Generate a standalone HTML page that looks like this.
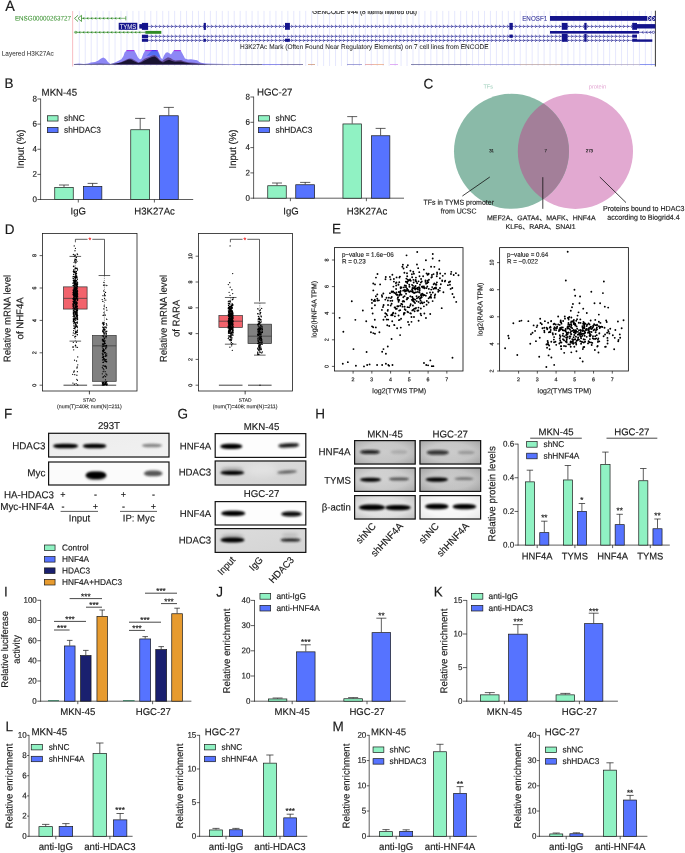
<!DOCTYPE html>
<html lang="en">
<head>
<meta charset="utf-8">
<title>Figure</title>
<style>
html,body{margin:0;padding:0;background:#fff;}
body{width:685px;height:853px;overflow:hidden;}
svg{display:block;font-family:"Liberation Sans",sans-serif;}
</style>
</head>
<body>
<svg width="685" height="853" viewBox="0 0 685 853" fill="#1a1a1a">
<defs>
<filter id="b1" x="-30%" y="-100%" width="160%" height="300%"><feGaussianBlur stdDeviation="0.9"/></filter>
<filter id="b2" x="-30%" y="-100%" width="160%" height="300%"><feGaussianBlur stdDeviation="1.8"/></filter>
<filter id="b3" x="-30%" y="-100%" width="160%" height="300%"><feGaussianBlur stdDeviation="3"/></filter>
<filter id="b4" x="-30%" y="-100%" width="160%" height="300%"><feGaussianBlur stdDeviation="1.3"/></filter>
<radialGradient id="vg" cx="0.5" cy="0.5" r="0.75"><stop offset="0" stop-color="#000" stop-opacity="0"/><stop offset="0.5" stop-color="#000" stop-opacity="0.1"/><stop offset="1" stop-color="#000" stop-opacity="1"/></radialGradient>
</defs>
<rect width="685" height="853" fill="#fff"/>
<g id="panelA">
<path d="M79.3 10.9V66M85.26 10.9V66M91.22 10.9V66M97.18 10.9V66M103.13 10.9V66M109.09 10.9V66M115.05 10.9V66M121.01 10.9V66M126.97 10.9V66M132.93 10.9V66M138.89 10.9V66M144.85 10.9V66M150.8 10.9V66M156.76 10.9V66M162.72 10.9V66M168.68 10.9V66M174.64 10.9V66M180.6 10.9V66M186.56 10.9V66M192.52 10.9V66M198.47 10.9V66M204.43 10.9V66M210.39 10.9V66M216.35 10.9V66M222.31 10.9V66M228.27 10.9V66M234.23 10.9V66M240.18 10.9V66M246.14 10.9V66M252.1 10.9V66M258.06 10.9V66M264.02 10.9V66M269.98 10.9V66M275.94 10.9V66M281.9 10.9V66M287.85 10.9V66M293.81 10.9V66M299.77 10.9V66M305.73 10.9V66M311.69 10.9V66M317.65 10.9V66M323.61 10.9V66M329.57 10.9V66M335.52 10.9V66M341.48 10.9V66M347.44 10.9V66M353.4 10.9V66M359.36 10.9V66M365.32 10.9V66M371.28 10.9V66M377.24 10.9V66M383.19 10.9V66M389.15 10.9V66M395.11 10.9V66M401.07 10.9V66M407.03 10.9V66M412.99 10.9V66M418.95 10.9V66M424.9 10.9V66M430.86 10.9V66M436.82 10.9V66M442.78 10.9V66M448.74 10.9V66M454.7 10.9V66M460.66 10.9V66M466.62 10.9V66M472.57 10.9V66M478.53 10.9V66M484.49 10.9V66M490.45 10.9V66M496.41 10.9V66M502.37 10.9V66M508.33 10.9V66M514.29 10.9V66M520.24 10.9V66M526.2 10.9V66M532.16 10.9V66M538.12 10.9V66M544.08 10.9V66M550.04 10.9V66M556 10.9V66M561.95 10.9V66M567.91 10.9V66M573.87 10.9V66M579.83 10.9V66M585.79 10.9V66M591.75 10.9V66M597.71 10.9V66M603.67 10.9V66M609.62 10.9V66M615.58 10.9V66M621.54 10.9V66M627.5 10.9V66M633.46 10.9V66M639.42 10.9V66M645.38 10.9V66M651.34 10.9V66" stroke="#d9dcfc" stroke-width="0.65" fill="none"/>
<line x1="72.6" y1="10.9" x2="72.6" y2="66.5" stroke-width="1.1" stroke="#f9c3c7"/>
<line x1="655.4" y1="10.7" x2="655.4" y2="66.5" stroke-width="0.9" stroke="#222"/>
<clipPath id="capclip"><rect x="300" y="11" width="140" height="6"/></clipPath>
<g clip-path="url(#capclip)">
<text transform="translate(364.6 13.9) rotate(0.03) scale(1 1.03)" font-size="6.6" text-anchor="middle" fill="#222" stroke="#222" stroke-width="0.15" textLength="104.6" lengthAdjust="spacingAndGlyphs">GENCODE V44 (8 items filtered out)</text>
</g>
<text transform="translate(240 48.9) rotate(0.03) scale(1 1.03)" font-size="6.55" fill="#2a2a2a" stroke="#2a2a2a" stroke-width="0.05" textLength="248.5" lengthAdjust="spacingAndGlyphs">H3K27Ac Mark (Often Found Near Regulatory Elements) on 7 cell lines from ENCODE</text>
<text transform="translate(1.8 55.8) rotate(0.03) scale(1 1.03)" font-size="6.7" fill="#333" stroke="#333" stroke-width="0.05" textLength="52" lengthAdjust="spacingAndGlyphs">Layered H3K27Ac</text>
<text transform="translate(14.9 20.4) rotate(0.03) scale(1 1.03)" font-size="6.5" fill="#3a9230" stroke="#3a9230" stroke-width="0.05" textLength="56" lengthAdjust="spacingAndGlyphs">ENSG00000263727</text>
<line x1="76" y1="18.3" x2="125.8" y2="18.3" stroke-width="0.6" stroke="#2f8a24"/>
<line x1="125.8" y1="16.2" x2="125.8" y2="20.4" stroke-width="0.7" stroke="#2f8a24"/>
<path d="M78 15.3L74.5 18.4L78 21.5M81.5 15.3L78 18.4L81.5 21.5V15.3" stroke="#2f8a24" stroke-width="0.75" fill="#fff"/>
<path d="M84.5 16.9l-2 1.4l2 1.4l-0.5 -1.4zM88.5 16.9l-2 1.4l2 1.4l-0.5 -1.4zM92.5 16.9l-2 1.4l2 1.4l-0.5 -1.4zM96.5 16.9l-2 1.4l2 1.4l-0.5 -1.4zM100.5 16.9l-2 1.4l2 1.4l-0.5 -1.4zM104.5 16.9l-2 1.4l2 1.4l-0.5 -1.4zM108.5 16.9l-2 1.4l2 1.4l-0.5 -1.4zM112.5 16.9l-2 1.4l2 1.4l-0.5 -1.4zM116.5 16.9l-2 1.4l2 1.4l-0.5 -1.4zM120.5 16.9l-2 1.4l2 1.4l-0.5 -1.4z" fill="#2f8a24" stroke="none"/>
<line x1="75" y1="32.3" x2="146" y2="32.3" stroke-width="0.7" stroke="#2f8a24"/>
<ellipse cx="75.8" cy="32.3" rx="1.4" ry="1" fill="none" stroke="#2f8a24" stroke-width="0.6"/>
<rect x="145.4" y="30.9" width="15.9" height="2.9" fill="#2f8a24" stroke="none"/>
<path d="M80.5 30.9l-2 1.4l2 1.4l-0.5 -1.4zM84.5 30.9l-2 1.4l2 1.4l-0.5 -1.4zM88.5 30.9l-2 1.4l2 1.4l-0.5 -1.4zM92.5 30.9l-2 1.4l2 1.4l-0.5 -1.4zM96.5 30.9l-2 1.4l2 1.4l-0.5 -1.4zM100.5 30.9l-2 1.4l2 1.4l-0.5 -1.4zM104.5 30.9l-2 1.4l2 1.4l-0.5 -1.4zM108.5 30.9l-2 1.4l2 1.4l-0.5 -1.4zM112.5 30.9l-2 1.4l2 1.4l-0.5 -1.4zM116.5 30.9l-2 1.4l2 1.4l-0.5 -1.4zM120.5 30.9l-2 1.4l2 1.4l-0.5 -1.4zM124.5 30.9l-2 1.4l2 1.4l-0.5 -1.4zM128.5 30.9l-2 1.4l2 1.4l-0.5 -1.4zM132.5 30.9l-2 1.4l2 1.4l-0.5 -1.4zM136.5 30.9l-2 1.4l2 1.4l-0.5 -1.4zM140.5 30.9l-2 1.4l2 1.4l-0.5 -1.4z" fill="#2f8a24" stroke="none"/>
<rect x="118.7" y="22.8" width="18.6" height="7" fill="#14148c" stroke="none"/>
<text transform="translate(128 28.9) rotate(0.03) scale(1 1.03)" font-size="6.6" text-anchor="middle" fill="#fff" textLength="16.6" lengthAdjust="spacingAndGlyphs">TYMS</text>
<line x1="139.3" y1="26.4" x2="655" y2="26.4" stroke-width="0.55" stroke="#14148c"/>
<line x1="142" y1="36.3" x2="634" y2="36.3" stroke-width="0.55" stroke="#14148c"/>
<line x1="142" y1="40.4" x2="652" y2="40.4" stroke-width="0.55" stroke="#14148c"/>
<line x1="550" y1="32.3" x2="652.5" y2="32.3" stroke-width="0.6" stroke="#14148c"/>
<path d="M151 24.9l1.7 1.5l-1.7 1.5M155 24.9l1.7 1.5l-1.7 1.5M159 24.9l1.7 1.5l-1.7 1.5M163 24.9l1.7 1.5l-1.7 1.5M167 24.9l1.7 1.5l-1.7 1.5M171 24.9l1.7 1.5l-1.7 1.5M175 24.9l1.7 1.5l-1.7 1.5M179 24.9l1.7 1.5l-1.7 1.5M183 24.9l1.7 1.5l-1.7 1.5M187 24.9l1.7 1.5l-1.7 1.5M191 24.9l1.7 1.5l-1.7 1.5M195 24.9l1.7 1.5l-1.7 1.5M199 24.9l1.7 1.5l-1.7 1.5M203 24.9l1.7 1.5l-1.7 1.5M207 24.9l1.7 1.5l-1.7 1.5M211 24.9l1.7 1.5l-1.7 1.5M215 24.9l1.7 1.5l-1.7 1.5M219 24.9l1.7 1.5l-1.7 1.5M223 24.9l1.7 1.5l-1.7 1.5M227 24.9l1.7 1.5l-1.7 1.5M231 24.9l1.7 1.5l-1.7 1.5M235 24.9l1.7 1.5l-1.7 1.5M239 24.9l1.7 1.5l-1.7 1.5M243 24.9l1.7 1.5l-1.7 1.5M247 24.9l1.7 1.5l-1.7 1.5M251 24.9l1.7 1.5l-1.7 1.5M255 24.9l1.7 1.5l-1.7 1.5M259 24.9l1.7 1.5l-1.7 1.5M263 24.9l1.7 1.5l-1.7 1.5M267 24.9l1.7 1.5l-1.7 1.5M271 24.9l1.7 1.5l-1.7 1.5M275 24.9l1.7 1.5l-1.7 1.5M279 24.9l1.7 1.5l-1.7 1.5M283 24.9l1.7 1.5l-1.7 1.5M287 24.9l1.7 1.5l-1.7 1.5M291 24.9l1.7 1.5l-1.7 1.5M295 24.9l1.7 1.5l-1.7 1.5M299 24.9l1.7 1.5l-1.7 1.5M303 24.9l1.7 1.5l-1.7 1.5M307 24.9l1.7 1.5l-1.7 1.5M311 24.9l1.7 1.5l-1.7 1.5M315 24.9l1.7 1.5l-1.7 1.5M319 24.9l1.7 1.5l-1.7 1.5M323 24.9l1.7 1.5l-1.7 1.5M327 24.9l1.7 1.5l-1.7 1.5M331 24.9l1.7 1.5l-1.7 1.5M335 24.9l1.7 1.5l-1.7 1.5M339 24.9l1.7 1.5l-1.7 1.5M343 24.9l1.7 1.5l-1.7 1.5M347 24.9l1.7 1.5l-1.7 1.5M351 24.9l1.7 1.5l-1.7 1.5M355 24.9l1.7 1.5l-1.7 1.5M359 24.9l1.7 1.5l-1.7 1.5M363 24.9l1.7 1.5l-1.7 1.5M367 24.9l1.7 1.5l-1.7 1.5M371 24.9l1.7 1.5l-1.7 1.5M375 24.9l1.7 1.5l-1.7 1.5M379 24.9l1.7 1.5l-1.7 1.5M383 24.9l1.7 1.5l-1.7 1.5M387 24.9l1.7 1.5l-1.7 1.5M391 24.9l1.7 1.5l-1.7 1.5M395 24.9l1.7 1.5l-1.7 1.5M399 24.9l1.7 1.5l-1.7 1.5M403 24.9l1.7 1.5l-1.7 1.5M407 24.9l1.7 1.5l-1.7 1.5M411 24.9l1.7 1.5l-1.7 1.5M415 24.9l1.7 1.5l-1.7 1.5M419 24.9l1.7 1.5l-1.7 1.5M423 24.9l1.7 1.5l-1.7 1.5M427 24.9l1.7 1.5l-1.7 1.5M431 24.9l1.7 1.5l-1.7 1.5M435 24.9l1.7 1.5l-1.7 1.5M439 24.9l1.7 1.5l-1.7 1.5M443 24.9l1.7 1.5l-1.7 1.5M447 24.9l1.7 1.5l-1.7 1.5M451 24.9l1.7 1.5l-1.7 1.5M455 24.9l1.7 1.5l-1.7 1.5M459 24.9l1.7 1.5l-1.7 1.5M463 24.9l1.7 1.5l-1.7 1.5M467 24.9l1.7 1.5l-1.7 1.5M471 24.9l1.7 1.5l-1.7 1.5M475 24.9l1.7 1.5l-1.7 1.5M479 24.9l1.7 1.5l-1.7 1.5M483 24.9l1.7 1.5l-1.7 1.5M487 24.9l1.7 1.5l-1.7 1.5M491 24.9l1.7 1.5l-1.7 1.5M495 24.9l1.7 1.5l-1.7 1.5M499 24.9l1.7 1.5l-1.7 1.5M503 24.9l1.7 1.5l-1.7 1.5M507 24.9l1.7 1.5l-1.7 1.5M511 24.9l1.7 1.5l-1.7 1.5M515 24.9l1.7 1.5l-1.7 1.5M519 24.9l1.7 1.5l-1.7 1.5M523 24.9l1.7 1.5l-1.7 1.5M527 24.9l1.7 1.5l-1.7 1.5M531 24.9l1.7 1.5l-1.7 1.5M535 24.9l1.7 1.5l-1.7 1.5M539 24.9l1.7 1.5l-1.7 1.5M543 24.9l1.7 1.5l-1.7 1.5M547 24.9l1.7 1.5l-1.7 1.5M551 24.9l1.7 1.5l-1.7 1.5M555 24.9l1.7 1.5l-1.7 1.5M559 24.9l1.7 1.5l-1.7 1.5M563 24.9l1.7 1.5l-1.7 1.5M567 24.9l1.7 1.5l-1.7 1.5M571 24.9l1.7 1.5l-1.7 1.5M575 24.9l1.7 1.5l-1.7 1.5M579 24.9l1.7 1.5l-1.7 1.5M583 24.9l1.7 1.5l-1.7 1.5M587 24.9l1.7 1.5l-1.7 1.5M591 24.9l1.7 1.5l-1.7 1.5M595 24.9l1.7 1.5l-1.7 1.5M599 24.9l1.7 1.5l-1.7 1.5M603 24.9l1.7 1.5l-1.7 1.5M607 24.9l1.7 1.5l-1.7 1.5M611 24.9l1.7 1.5l-1.7 1.5M615 24.9l1.7 1.5l-1.7 1.5M619 24.9l1.7 1.5l-1.7 1.5M623 24.9l1.7 1.5l-1.7 1.5M627 24.9l1.7 1.5l-1.7 1.5M631 24.9l1.7 1.5l-1.7 1.5M151 34.8l1.7 1.5l-1.7 1.5M155 34.8l1.7 1.5l-1.7 1.5M159 34.8l1.7 1.5l-1.7 1.5M163 34.8l1.7 1.5l-1.7 1.5M167 34.8l1.7 1.5l-1.7 1.5M171 34.8l1.7 1.5l-1.7 1.5M175 34.8l1.7 1.5l-1.7 1.5M179 34.8l1.7 1.5l-1.7 1.5M183 34.8l1.7 1.5l-1.7 1.5M187 34.8l1.7 1.5l-1.7 1.5M191 34.8l1.7 1.5l-1.7 1.5M195 34.8l1.7 1.5l-1.7 1.5M199 34.8l1.7 1.5l-1.7 1.5M203 34.8l1.7 1.5l-1.7 1.5M207 34.8l1.7 1.5l-1.7 1.5M211 34.8l1.7 1.5l-1.7 1.5M215 34.8l1.7 1.5l-1.7 1.5M219 34.8l1.7 1.5l-1.7 1.5M223 34.8l1.7 1.5l-1.7 1.5M227 34.8l1.7 1.5l-1.7 1.5M231 34.8l1.7 1.5l-1.7 1.5M235 34.8l1.7 1.5l-1.7 1.5M239 34.8l1.7 1.5l-1.7 1.5M243 34.8l1.7 1.5l-1.7 1.5M247 34.8l1.7 1.5l-1.7 1.5M251 34.8l1.7 1.5l-1.7 1.5M255 34.8l1.7 1.5l-1.7 1.5M259 34.8l1.7 1.5l-1.7 1.5M263 34.8l1.7 1.5l-1.7 1.5M267 34.8l1.7 1.5l-1.7 1.5M271 34.8l1.7 1.5l-1.7 1.5M275 34.8l1.7 1.5l-1.7 1.5M279 34.8l1.7 1.5l-1.7 1.5M283 34.8l1.7 1.5l-1.7 1.5M287 34.8l1.7 1.5l-1.7 1.5M291 34.8l1.7 1.5l-1.7 1.5M295 34.8l1.7 1.5l-1.7 1.5M299 34.8l1.7 1.5l-1.7 1.5M303 34.8l1.7 1.5l-1.7 1.5M307 34.8l1.7 1.5l-1.7 1.5M311 34.8l1.7 1.5l-1.7 1.5M315 34.8l1.7 1.5l-1.7 1.5M319 34.8l1.7 1.5l-1.7 1.5M323 34.8l1.7 1.5l-1.7 1.5M327 34.8l1.7 1.5l-1.7 1.5M331 34.8l1.7 1.5l-1.7 1.5M335 34.8l1.7 1.5l-1.7 1.5M339 34.8l1.7 1.5l-1.7 1.5M343 34.8l1.7 1.5l-1.7 1.5M347 34.8l1.7 1.5l-1.7 1.5M351 34.8l1.7 1.5l-1.7 1.5M355 34.8l1.7 1.5l-1.7 1.5M359 34.8l1.7 1.5l-1.7 1.5M363 34.8l1.7 1.5l-1.7 1.5M367 34.8l1.7 1.5l-1.7 1.5M371 34.8l1.7 1.5l-1.7 1.5M375 34.8l1.7 1.5l-1.7 1.5M379 34.8l1.7 1.5l-1.7 1.5M383 34.8l1.7 1.5l-1.7 1.5M387 34.8l1.7 1.5l-1.7 1.5M391 34.8l1.7 1.5l-1.7 1.5M395 34.8l1.7 1.5l-1.7 1.5M399 34.8l1.7 1.5l-1.7 1.5M403 34.8l1.7 1.5l-1.7 1.5M407 34.8l1.7 1.5l-1.7 1.5M411 34.8l1.7 1.5l-1.7 1.5M415 34.8l1.7 1.5l-1.7 1.5M419 34.8l1.7 1.5l-1.7 1.5M423 34.8l1.7 1.5l-1.7 1.5M427 34.8l1.7 1.5l-1.7 1.5M431 34.8l1.7 1.5l-1.7 1.5M435 34.8l1.7 1.5l-1.7 1.5M439 34.8l1.7 1.5l-1.7 1.5M443 34.8l1.7 1.5l-1.7 1.5M447 34.8l1.7 1.5l-1.7 1.5M451 34.8l1.7 1.5l-1.7 1.5M455 34.8l1.7 1.5l-1.7 1.5M459 34.8l1.7 1.5l-1.7 1.5M463 34.8l1.7 1.5l-1.7 1.5M467 34.8l1.7 1.5l-1.7 1.5M471 34.8l1.7 1.5l-1.7 1.5M475 34.8l1.7 1.5l-1.7 1.5M479 34.8l1.7 1.5l-1.7 1.5M483 34.8l1.7 1.5l-1.7 1.5M487 34.8l1.7 1.5l-1.7 1.5M491 34.8l1.7 1.5l-1.7 1.5M495 34.8l1.7 1.5l-1.7 1.5M499 34.8l1.7 1.5l-1.7 1.5M503 34.8l1.7 1.5l-1.7 1.5M507 34.8l1.7 1.5l-1.7 1.5M511 34.8l1.7 1.5l-1.7 1.5M515 34.8l1.7 1.5l-1.7 1.5M519 34.8l1.7 1.5l-1.7 1.5M523 34.8l1.7 1.5l-1.7 1.5M527 34.8l1.7 1.5l-1.7 1.5M531 34.8l1.7 1.5l-1.7 1.5M535 34.8l1.7 1.5l-1.7 1.5M539 34.8l1.7 1.5l-1.7 1.5M543 34.8l1.7 1.5l-1.7 1.5M547 34.8l1.7 1.5l-1.7 1.5M551 34.8l1.7 1.5l-1.7 1.5M555 34.8l1.7 1.5l-1.7 1.5M559 34.8l1.7 1.5l-1.7 1.5M563 34.8l1.7 1.5l-1.7 1.5M567 34.8l1.7 1.5l-1.7 1.5M571 34.8l1.7 1.5l-1.7 1.5M575 34.8l1.7 1.5l-1.7 1.5M579 34.8l1.7 1.5l-1.7 1.5M583 34.8l1.7 1.5l-1.7 1.5M587 34.8l1.7 1.5l-1.7 1.5M591 34.8l1.7 1.5l-1.7 1.5M595 34.8l1.7 1.5l-1.7 1.5M599 34.8l1.7 1.5l-1.7 1.5M603 34.8l1.7 1.5l-1.7 1.5M607 34.8l1.7 1.5l-1.7 1.5M611 34.8l1.7 1.5l-1.7 1.5M615 34.8l1.7 1.5l-1.7 1.5M619 34.8l1.7 1.5l-1.7 1.5M623 34.8l1.7 1.5l-1.7 1.5M627 34.8l1.7 1.5l-1.7 1.5M151 38.9l1.7 1.5l-1.7 1.5M155 38.9l1.7 1.5l-1.7 1.5M159 38.9l1.7 1.5l-1.7 1.5M163 38.9l1.7 1.5l-1.7 1.5M167 38.9l1.7 1.5l-1.7 1.5M171 38.9l1.7 1.5l-1.7 1.5M175 38.9l1.7 1.5l-1.7 1.5M179 38.9l1.7 1.5l-1.7 1.5M183 38.9l1.7 1.5l-1.7 1.5M187 38.9l1.7 1.5l-1.7 1.5M191 38.9l1.7 1.5l-1.7 1.5M195 38.9l1.7 1.5l-1.7 1.5M199 38.9l1.7 1.5l-1.7 1.5M203 38.9l1.7 1.5l-1.7 1.5M207 38.9l1.7 1.5l-1.7 1.5M211 38.9l1.7 1.5l-1.7 1.5M215 38.9l1.7 1.5l-1.7 1.5M219 38.9l1.7 1.5l-1.7 1.5M223 38.9l1.7 1.5l-1.7 1.5M227 38.9l1.7 1.5l-1.7 1.5M231 38.9l1.7 1.5l-1.7 1.5M235 38.9l1.7 1.5l-1.7 1.5M239 38.9l1.7 1.5l-1.7 1.5M243 38.9l1.7 1.5l-1.7 1.5M247 38.9l1.7 1.5l-1.7 1.5M251 38.9l1.7 1.5l-1.7 1.5M255 38.9l1.7 1.5l-1.7 1.5M259 38.9l1.7 1.5l-1.7 1.5M263 38.9l1.7 1.5l-1.7 1.5M267 38.9l1.7 1.5l-1.7 1.5M271 38.9l1.7 1.5l-1.7 1.5M275 38.9l1.7 1.5l-1.7 1.5M279 38.9l1.7 1.5l-1.7 1.5M283 38.9l1.7 1.5l-1.7 1.5M287 38.9l1.7 1.5l-1.7 1.5M291 38.9l1.7 1.5l-1.7 1.5M295 38.9l1.7 1.5l-1.7 1.5M299 38.9l1.7 1.5l-1.7 1.5M303 38.9l1.7 1.5l-1.7 1.5M307 38.9l1.7 1.5l-1.7 1.5M311 38.9l1.7 1.5l-1.7 1.5M315 38.9l1.7 1.5l-1.7 1.5M319 38.9l1.7 1.5l-1.7 1.5M323 38.9l1.7 1.5l-1.7 1.5M327 38.9l1.7 1.5l-1.7 1.5M331 38.9l1.7 1.5l-1.7 1.5M335 38.9l1.7 1.5l-1.7 1.5M339 38.9l1.7 1.5l-1.7 1.5M343 38.9l1.7 1.5l-1.7 1.5M347 38.9l1.7 1.5l-1.7 1.5M351 38.9l1.7 1.5l-1.7 1.5M355 38.9l1.7 1.5l-1.7 1.5M359 38.9l1.7 1.5l-1.7 1.5M363 38.9l1.7 1.5l-1.7 1.5M367 38.9l1.7 1.5l-1.7 1.5M371 38.9l1.7 1.5l-1.7 1.5M375 38.9l1.7 1.5l-1.7 1.5M379 38.9l1.7 1.5l-1.7 1.5M383 38.9l1.7 1.5l-1.7 1.5M387 38.9l1.7 1.5l-1.7 1.5M391 38.9l1.7 1.5l-1.7 1.5M395 38.9l1.7 1.5l-1.7 1.5M399 38.9l1.7 1.5l-1.7 1.5M403 38.9l1.7 1.5l-1.7 1.5M407 38.9l1.7 1.5l-1.7 1.5M411 38.9l1.7 1.5l-1.7 1.5M415 38.9l1.7 1.5l-1.7 1.5M419 38.9l1.7 1.5l-1.7 1.5M423 38.9l1.7 1.5l-1.7 1.5M427 38.9l1.7 1.5l-1.7 1.5M431 38.9l1.7 1.5l-1.7 1.5M435 38.9l1.7 1.5l-1.7 1.5M439 38.9l1.7 1.5l-1.7 1.5M443 38.9l1.7 1.5l-1.7 1.5M447 38.9l1.7 1.5l-1.7 1.5M451 38.9l1.7 1.5l-1.7 1.5M455 38.9l1.7 1.5l-1.7 1.5M459 38.9l1.7 1.5l-1.7 1.5M463 38.9l1.7 1.5l-1.7 1.5M467 38.9l1.7 1.5l-1.7 1.5M471 38.9l1.7 1.5l-1.7 1.5M475 38.9l1.7 1.5l-1.7 1.5M479 38.9l1.7 1.5l-1.7 1.5M483 38.9l1.7 1.5l-1.7 1.5M487 38.9l1.7 1.5l-1.7 1.5M491 38.9l1.7 1.5l-1.7 1.5M495 38.9l1.7 1.5l-1.7 1.5M499 38.9l1.7 1.5l-1.7 1.5M503 38.9l1.7 1.5l-1.7 1.5M507 38.9l1.7 1.5l-1.7 1.5M511 38.9l1.7 1.5l-1.7 1.5M515 38.9l1.7 1.5l-1.7 1.5M519 38.9l1.7 1.5l-1.7 1.5M523 38.9l1.7 1.5l-1.7 1.5M527 38.9l1.7 1.5l-1.7 1.5M531 38.9l1.7 1.5l-1.7 1.5M535 38.9l1.7 1.5l-1.7 1.5M539 38.9l1.7 1.5l-1.7 1.5M543 38.9l1.7 1.5l-1.7 1.5M547 38.9l1.7 1.5l-1.7 1.5M551 38.9l1.7 1.5l-1.7 1.5M555 38.9l1.7 1.5l-1.7 1.5M559 38.9l1.7 1.5l-1.7 1.5M563 38.9l1.7 1.5l-1.7 1.5M567 38.9l1.7 1.5l-1.7 1.5M571 38.9l1.7 1.5l-1.7 1.5M575 38.9l1.7 1.5l-1.7 1.5M579 38.9l1.7 1.5l-1.7 1.5M583 38.9l1.7 1.5l-1.7 1.5M587 38.9l1.7 1.5l-1.7 1.5M591 38.9l1.7 1.5l-1.7 1.5M595 38.9l1.7 1.5l-1.7 1.5M599 38.9l1.7 1.5l-1.7 1.5M603 38.9l1.7 1.5l-1.7 1.5M607 38.9l1.7 1.5l-1.7 1.5M611 38.9l1.7 1.5l-1.7 1.5M615 38.9l1.7 1.5l-1.7 1.5M619 38.9l1.7 1.5l-1.7 1.5M623 38.9l1.7 1.5l-1.7 1.5M627 38.9l1.7 1.5l-1.7 1.5M643.5 31.1l-1.6 1.2l1.6 1.2M647.5 31.1l-1.6 1.2l1.6 1.2M651 31.1l-1.6 1.2l1.6 1.2" fill="none" stroke="#14148c" stroke-width="0.6"/>
<g fill="#14148c">
<rect x="139.3" y="24.1" width="2.8" height="4.5"/>
<rect x="141.9" y="22.9" width="6.2" height="7"/>
<rect x="141.9" y="34.7" width="6.2" height="3.3"/>
<rect x="141.9" y="38.6" width="6.2" height="3.2"/>
<rect x="203.7" y="22.9" width="2.2" height="7"/>
<rect x="203.7" y="38.8" width="2.2" height="3"/>
<rect x="285" y="22.9" width="4.9" height="6.9"/>
<rect x="285" y="38.7" width="4.9" height="3.1"/>
<rect x="509.4" y="22.9" width="3.4" height="6.9"/>
<rect x="509.4" y="34.6" width="3.4" height="3.2"/>
<rect x="561.8" y="22.9" width="5.7" height="6.9"/>
<rect x="561.8" y="33.7" width="5.7" height="8.1"/>
<rect x="584.3" y="22.9" width="2.3" height="6.9"/>
<rect x="584.3" y="34" width="2.3" height="7.8"/>
<rect x="632.2" y="22.9" width="4.8" height="6.9"/>
<rect x="632.2" y="34.6" width="4.8" height="3.1"/>
<rect x="632.2" y="38.7" width="4.8" height="3.1"/>
<rect x="637" y="24.1" width="18.4" height="4.4"/>
<rect x="550" y="31" width="89" height="2.6"/>
<rect x="637" y="39.4" width="15.3" height="2.4"/>
<rect x="550" y="16" width="105.4" height="4.8"/>
</g>
<ellipse cx="653.4" cy="32.3" rx="1.2" ry="1.1" fill="#fff" stroke="#14148c" stroke-width="0.6"/>
<path d="M647.7 15.9L651 18.4L647.7 20.9zM651.7 15.9L655 18.4L651.7 20.9z" stroke="#fff" stroke-width="0.8" fill="none"/>
<text transform="translate(522.2 20.8) rotate(0.03) scale(1 1.03)" font-size="6.6" fill="#2a2a96" stroke="#2a2a96" stroke-width="0.05" textLength="25" lengthAdjust="spacingAndGlyphs">ENOSF1</text>
<polygon points="73.5,64.6 74,63.9 79,63.4 84,63.9 88,63.6 91,62.6 95,62 98,60.8 101,58.6 103.3,57.4 105.5,58.8 108,62 110.5,64 113,63.2 116,62 119,60.6 121.4,59.2 123.5,56 124.6,52.5 126.5,50.4 134.3,50.4 136,53.5 138,57.5 140,59.4 141.6,58.4 143.4,53.5 145.3,50.4 157.8,50.4 159.3,53.5 160.8,57.8 162.4,59.2 164,55.6 165.8,52.8 167.5,52.2 169.4,53.2 171,54.5 172.6,52 173.9,50.4 180.7,50.4 182.4,53.5 185,58.6 188,59.4 191,59.2 194,59.8 197.2,60.2 199,61.8 201,62.8 206,63.4 214,63.7 225,63.9 232,64.2 232,64.6" fill="#8d87f5"/>
<polygon points="146.5,55.8 149,53.4 151,51 157.4,51 158.8,54 160.2,58 157,56.4 153,55.4" fill="#4a6af2" opacity="0.85"/>
<polygon points="112,64.6 116.7,63.4 120,62.4 124,60.8 127,59.2 129.6,58.4 132,58.8 135,60.6 138.5,62.4 141,61.5 144.5,58.8 149,57 152,55.6 154.6,55 157,56.6 159.5,59.6 162,61.2 165,59 168,57.2 170.5,58 173,59.8 175.5,60.6 177.4,60.2 181,60 184,61.2 188,62.2 194,62.8 200,63.6 208,64.6" fill="#5a3f86" opacity="0.9"/>
<polygon points="74,64.6 74,64.1 90,64 100,63.7 110,63.9 116,63.4 121,62.4 125,61 128.5,59.6 131,59.6 134,61.2 138,63 141,62.6 144.5,60.6 148.5,58.6 152,57 154.6,56.4 157,58 160,61 163,62.4 166,60.8 169,59.8 172,61 175,61.8 178,61.4 181,61.4 185,62.6 191,63.4 198,63.9 232,64.2 232,64.6" fill="#130f2b" opacity="0.93"/>
<line x1="126.5" y1="50.6" x2="134.3" y2="50.6" stroke-width="0.9" stroke="#a01be0"/>
<line x1="145.3" y1="50.6" x2="157.8" y2="50.6" stroke-width="0.9" stroke="#a01be0"/>
<line x1="173.9" y1="50.6" x2="180.7" y2="50.6" stroke-width="0.9" stroke="#a01be0"/>
<line x1="151.7" y1="50.6" x2="156.4" y2="50.6" stroke-width="0.9" stroke="#3b35f2"/>
<line x1="232" y1="64.5" x2="240" y2="64.5" stroke-width="0.7" stroke="#6a6ad8"/>
<line x1="240" y1="64.5" x2="262" y2="64.5" stroke-width="0.7" stroke="#3b3b6e"/>
<line x1="262" y1="64.5" x2="280" y2="64.5" stroke-width="0.7" stroke="#5e5ee0"/>
<line x1="280" y1="64.5" x2="303" y2="64.5" stroke-width="0.7" stroke="#554c8a"/>
<line x1="308" y1="64.5" x2="315" y2="64.5" stroke-width="0.7" stroke="#c98a6a"/>
<line x1="347" y1="64.5" x2="362" y2="64.5" stroke-width="0.7" stroke="#7d7dc8"/>
<line x1="365" y1="64.5" x2="374" y2="64.5" stroke-width="0.7" stroke="#e08f8f"/>
<line x1="374" y1="64.5" x2="384" y2="64.5" stroke-width="0.7" stroke="#e9a07a"/>
<line x1="390" y1="64.5" x2="398" y2="64.5" stroke-width="0.7" stroke="#d58cf0"/>
<line x1="411" y1="64.5" x2="470" y2="64.5" stroke-width="0.7" stroke="#55558f"/>
<line x1="470" y1="64.5" x2="520" y2="64.5" stroke-width="0.7" stroke="#8a8ad0"/>
<line x1="520" y1="64.5" x2="560" y2="64.5" stroke-width="0.7" stroke="#b59a9a"/>
<line x1="560" y1="64.5" x2="610" y2="64.5" stroke-width="0.7" stroke="#7c7cc4"/>
<line x1="610" y1="64.5" x2="640" y2="64.5" stroke-width="0.7" stroke="#a9a0c0"/>
<line x1="640" y1="64.5" x2="655" y2="64.5" stroke-width="0.7" stroke="#5a6ae8"/>
<text transform="translate(5.3 11) rotate(0.03) scale(1 1.03)" font-size="14.4" stroke="#1a1a1a" stroke-width="0.15">A</text>
</g>
<g id="panelB">
<text transform="translate(4.6 88.1) rotate(0.03) scale(1 1.03)" font-size="13.5" stroke="#1a1a1a" stroke-width="0.15">B</text>
<line x1="40.6" y1="98.65" x2="40.6" y2="199.85" stroke-width="0.7" stroke="#1a1a1a"/>
<line x1="40.25" y1="199.5" x2="193.2" y2="199.5" stroke-width="0.7" stroke="#1a1a1a"/>
<line x1="37.4" y1="199.5" x2="40.6" y2="199.5" stroke-width="0.7" stroke="#1a1a1a"/>
<text transform="translate(36.9 201.98) rotate(0.03) scale(1 1.03)" font-size="8" text-anchor="end" stroke="#1a1a1a" stroke-width="0.15">0</text>
<line x1="37.4" y1="174.38" x2="40.6" y2="174.38" stroke-width="0.7" stroke="#1a1a1a"/>
<text transform="translate(36.9 176.85) rotate(0.03) scale(1 1.03)" font-size="8" text-anchor="end" stroke="#1a1a1a" stroke-width="0.15">2</text>
<line x1="37.4" y1="149.25" x2="40.6" y2="149.25" stroke-width="0.7" stroke="#1a1a1a"/>
<text transform="translate(36.9 151.73) rotate(0.03) scale(1 1.03)" font-size="8" text-anchor="end" stroke="#1a1a1a" stroke-width="0.15">4</text>
<line x1="37.4" y1="124.12" x2="40.6" y2="124.12" stroke-width="0.7" stroke="#1a1a1a"/>
<text transform="translate(36.9 126.6) rotate(0.03) scale(1 1.03)" font-size="8" text-anchor="end" stroke="#1a1a1a" stroke-width="0.15">6</text>
<line x1="37.4" y1="99" x2="40.6" y2="99" stroke-width="0.7" stroke="#1a1a1a"/>
<text transform="translate(36.9 101.48) rotate(0.03) scale(1 1.03)" font-size="8" text-anchor="end" stroke="#1a1a1a" stroke-width="0.15">8</text>
<text transform="translate(41.6 95.8) rotate(0.03) scale(1 1.03)" font-size="9.7" stroke="#1a1a1a" stroke-width="0.15">MKN-45</text>
<text transform="translate(23.7 149) rotate(-89.97) scale(1 1.03)" font-size="9.6" text-anchor="middle" stroke="#1a1a1a" stroke-width="0.15">Input (%)</text>
<rect x="47.35" y="115.75" width="10.7" height="5.3" fill="#90f2c3" stroke-width="0.7" stroke="#1a1a1a"/>
<text transform="translate(64 121.09) rotate(0.03) scale(1 1.03)" font-size="8.3" stroke="#1a1a1a" stroke-width="0.15">shNC</text>
<rect x="47.35" y="127.35" width="10.7" height="5.3" fill="#5673ff" stroke-width="0.7" stroke="#1a1a1a"/>
<text transform="translate(64 132.69) rotate(0.03) scale(1 1.03)" font-size="8.3" stroke="#1a1a1a" stroke-width="0.15">shHDAC3</text>
<line x1="64" y1="185" x2="64" y2="187" stroke-width="0.7" stroke="#1a1a1a"/>
<line x1="59.01" y1="185" x2="68.99" y2="185" stroke-width="0.7" stroke="#1a1a1a"/>
<rect x="54.75" y="187.35" width="18.5" height="12.15" fill="#90f2c3" stroke-width="0.7" stroke="#1a1a1a"/>
<line x1="92.6" y1="183.4" x2="92.6" y2="186" stroke-width="0.7" stroke="#1a1a1a"/>
<line x1="87.61" y1="183.4" x2="97.59" y2="183.4" stroke-width="0.7" stroke="#1a1a1a"/>
<rect x="83.35" y="186.35" width="18.5" height="13.15" fill="#5673ff" stroke-width="0.7" stroke="#1a1a1a"/>
<line x1="140.2" y1="118.4" x2="140.2" y2="129.4" stroke-width="0.7" stroke="#1a1a1a"/>
<line x1="135.1" y1="118.4" x2="145.3" y2="118.4" stroke-width="0.7" stroke="#1a1a1a"/>
<rect x="130.75" y="129.75" width="18.9" height="69.75" fill="#90f2c3" stroke-width="0.7" stroke="#1a1a1a"/>
<line x1="168.8" y1="107.4" x2="168.8" y2="115.4" stroke-width="0.7" stroke="#1a1a1a"/>
<line x1="163.7" y1="107.4" x2="173.9" y2="107.4" stroke-width="0.7" stroke="#1a1a1a"/>
<rect x="159.35" y="115.75" width="18.9" height="83.75" fill="#5673ff" stroke-width="0.7" stroke="#1a1a1a"/>
<line x1="78.3" y1="199.5" x2="78.3" y2="202.5" stroke-width="0.7" stroke="#1a1a1a"/>
<line x1="154.4" y1="199.5" x2="154.4" y2="202.5" stroke-width="0.7" stroke="#1a1a1a"/>
<text transform="translate(78.3 214.4) rotate(0.03) scale(1 1.03)" font-size="9.6" text-anchor="middle" stroke="#1a1a1a" stroke-width="0.15">IgG</text>
<text transform="translate(154.6 214.4) rotate(0.03) scale(1 1.03)" font-size="9.6" text-anchor="middle" stroke="#1a1a1a" stroke-width="0.15">H3K27Ac</text>
<line x1="253.6" y1="96.65" x2="253.6" y2="198.55" stroke-width="0.7" stroke="#1a1a1a"/>
<line x1="253.25" y1="198.2" x2="404" y2="198.2" stroke-width="0.7" stroke="#1a1a1a"/>
<line x1="250.4" y1="198.2" x2="253.6" y2="198.2" stroke-width="0.7" stroke="#1a1a1a"/>
<text transform="translate(249.9 200.68) rotate(0.03) scale(1 1.03)" font-size="8" text-anchor="end" stroke="#1a1a1a" stroke-width="0.15">0</text>
<line x1="250.4" y1="172.9" x2="253.6" y2="172.9" stroke-width="0.7" stroke="#1a1a1a"/>
<text transform="translate(249.9 175.38) rotate(0.03) scale(1 1.03)" font-size="8" text-anchor="end" stroke="#1a1a1a" stroke-width="0.15">2</text>
<line x1="250.4" y1="147.6" x2="253.6" y2="147.6" stroke-width="0.7" stroke="#1a1a1a"/>
<text transform="translate(249.9 150.08) rotate(0.03) scale(1 1.03)" font-size="8" text-anchor="end" stroke="#1a1a1a" stroke-width="0.15">4</text>
<line x1="250.4" y1="122.3" x2="253.6" y2="122.3" stroke-width="0.7" stroke="#1a1a1a"/>
<text transform="translate(249.9 124.78) rotate(0.03) scale(1 1.03)" font-size="8" text-anchor="end" stroke="#1a1a1a" stroke-width="0.15">6</text>
<line x1="250.4" y1="97" x2="253.6" y2="97" stroke-width="0.7" stroke="#1a1a1a"/>
<text transform="translate(249.9 99.48) rotate(0.03) scale(1 1.03)" font-size="8" text-anchor="end" stroke="#1a1a1a" stroke-width="0.15">8</text>
<text transform="translate(257 95.6) rotate(0.03) scale(1 1.03)" font-size="9.7" stroke="#1a1a1a" stroke-width="0.15">HGC-27</text>
<text transform="translate(236.1 149) rotate(-89.97) scale(1 1.03)" font-size="9.6" text-anchor="middle" stroke="#1a1a1a" stroke-width="0.15">Input (%)</text>
<rect x="258.35" y="115.75" width="11.3" height="5.3" fill="#90f2c3" stroke-width="0.7" stroke="#1a1a1a"/>
<text transform="translate(275.6 121.09) rotate(0.03) scale(1 1.03)" font-size="8.3" stroke="#1a1a1a" stroke-width="0.15">shNC</text>
<rect x="258.35" y="127.35" width="11.3" height="5.3" fill="#5673ff" stroke-width="0.7" stroke="#1a1a1a"/>
<text transform="translate(275.6 132.69) rotate(0.03) scale(1 1.03)" font-size="8.3" stroke="#1a1a1a" stroke-width="0.15">shHDAC3</text>
<line x1="277" y1="183" x2="277" y2="185.4" stroke-width="0.7" stroke="#1a1a1a"/>
<line x1="272.01" y1="183" x2="281.99" y2="183" stroke-width="0.7" stroke="#1a1a1a"/>
<rect x="267.75" y="185.75" width="18.5" height="12.45" fill="#90f2c3" stroke-width="0.7" stroke="#1a1a1a"/>
<line x1="305.2" y1="182.4" x2="305.2" y2="184.4" stroke-width="0.7" stroke="#1a1a1a"/>
<line x1="300.1" y1="182.4" x2="310.3" y2="182.4" stroke-width="0.7" stroke="#1a1a1a"/>
<rect x="295.75" y="184.75" width="18.9" height="13.45" fill="#5673ff" stroke-width="0.7" stroke="#1a1a1a"/>
<line x1="352.2" y1="116.6" x2="352.2" y2="123.6" stroke-width="0.7" stroke="#1a1a1a"/>
<line x1="347.21" y1="116.6" x2="357.19" y2="116.6" stroke-width="0.7" stroke="#1a1a1a"/>
<rect x="342.95" y="123.95" width="18.5" height="74.25" fill="#90f2c3" stroke-width="0.7" stroke="#1a1a1a"/>
<line x1="380.6" y1="128.4" x2="380.6" y2="135.4" stroke-width="0.7" stroke="#1a1a1a"/>
<line x1="375.61" y1="128.4" x2="385.59" y2="128.4" stroke-width="0.7" stroke="#1a1a1a"/>
<rect x="371.35" y="135.75" width="18.5" height="62.45" fill="#5673ff" stroke-width="0.7" stroke="#1a1a1a"/>
<line x1="290.4" y1="198.2" x2="290.4" y2="201.2" stroke-width="0.7" stroke="#1a1a1a"/>
<line x1="366.4" y1="198.2" x2="366.4" y2="201.2" stroke-width="0.7" stroke="#1a1a1a"/>
<text transform="translate(291 214.4) rotate(0.03) scale(1 1.03)" font-size="9.6" text-anchor="middle" stroke="#1a1a1a" stroke-width="0.15">IgG</text>
<text transform="translate(367 214.4) rotate(0.03) scale(1 1.03)" font-size="9.6" text-anchor="middle" stroke="#1a1a1a" stroke-width="0.15">H3K27Ac</text>
</g>
<g id="panelC">
<text transform="translate(423.4 88.4) rotate(0.03) scale(1 1.03)" font-size="13.5" stroke="#1a1a1a" stroke-width="0.15">C</text>
<circle cx="575.4" cy="151.3" r="57.6" fill="#e2a9d1"/>
<circle cx="511.5" cy="151.3" r="57.5" fill="#8abaa8"/>
<clipPath id="vc"><circle cx="575.4" cy="151.3" r="57.6"/></clipPath>
<circle cx="511.5" cy="151.3" r="57.5" fill="#a37f99" clip-path="url(#vc)"/>
<text transform="translate(488.2 88.6) rotate(0.03) scale(1 1.03)" font-size="5.5" text-anchor="middle" fill="#9ccdb9">TFs</text>
<text transform="translate(597.4 88.6) rotate(0.03) scale(1 1.03)" font-size="5.7" text-anchor="middle" fill="#e3a5d2">protein</text>
<text transform="translate(491.6 152.3) rotate(0.03) scale(1 1.03)" font-size="4.4" text-anchor="middle" fill="#222" stroke="#222" stroke-width="0.15">31</text>
<text transform="translate(545.8 152.3) rotate(0.03) scale(1 1.03)" font-size="4.4" text-anchor="middle" fill="#222" stroke="#222" stroke-width="0.15">7</text>
<text transform="translate(589.4 152.3) rotate(0.03) scale(1 1.03)" font-size="4.4" text-anchor="middle" fill="#222" stroke="#222" stroke-width="0.15">273</text>
<line x1="489.8" y1="177" x2="462.4" y2="196" stroke-width="0.8" stroke="#111"/>
<line x1="542.8" y1="177.2" x2="542.8" y2="208.8" stroke-width="0.8" stroke="#111"/>
<line x1="599.8" y1="177" x2="626" y2="202.6" stroke-width="0.8" stroke="#111"/>
<text transform="translate(458.7 204.8) rotate(0.03) scale(1 1.03)" font-size="7" text-anchor="middle" fill="#222" stroke="#222" stroke-width="0.15">TFs in TYMS promoter</text>
<text transform="translate(458.7 213.4) rotate(0.03) scale(1 1.03)" font-size="7" text-anchor="middle" fill="#222" stroke="#222" stroke-width="0.15">from UCSC</text>
<text transform="translate(643.7 211) rotate(0.03) scale(1 1.03)" font-size="7.1" text-anchor="middle" fill="#222" stroke="#222" stroke-width="0.15">Proteins bound to HDAC3</text>
<text transform="translate(643.5 219.8) rotate(0.03) scale(1 1.03)" font-size="7.1" text-anchor="middle" fill="#222" stroke="#222" stroke-width="0.15">according to Biogrid4.4</text>
<text transform="translate(541.3 220.2) rotate(0.03) scale(1 1.03)" font-size="6.6" text-anchor="middle" fill="#222" stroke="#222" stroke-width="0.15" font-family="'Liberation Sans','Noto Sans CJK SC',sans-serif" textLength="108.6" lengthAdjust="spacingAndGlyphs">MEF2A、GATA4、MAFK、HNF4A</text>
<text transform="translate(540.6 229) rotate(0.03) scale(1 1.03)" font-size="6.6" text-anchor="middle" fill="#222" stroke="#222" stroke-width="0.15" font-family="'Liberation Sans','Noto Sans CJK SC',sans-serif" textLength="70.2" lengthAdjust="spacingAndGlyphs">KLF6、RARA、SNAI1</text>
</g>
<g id="panelD">
<text transform="translate(4.8 234) rotate(0.03) scale(1 1.03)" font-size="13.5" stroke="#1a1a1a" stroke-width="0.15">D</text>
<rect x="42.4" y="233.4" width="94.6" height="157.6" fill="none" stroke-width="0.8" stroke="#1c1c1c"/>
<line x1="39.6" y1="385.2" x2="42.4" y2="385.2" stroke-width="0.7" stroke="#1c1c1c"/>
<text transform="translate(36.2 385.2) rotate(-89.97) scale(1 1.03)" font-size="5.4" text-anchor="middle" fill="#222" stroke="#222" stroke-width="0.2">0</text>
<line x1="39.6" y1="352.8" x2="42.4" y2="352.8" stroke-width="0.7" stroke="#1c1c1c"/>
<text transform="translate(36.2 352.8) rotate(-89.97) scale(1 1.03)" font-size="5.4" text-anchor="middle" fill="#222" stroke="#222" stroke-width="0.2">2</text>
<line x1="39.6" y1="320.4" x2="42.4" y2="320.4" stroke-width="0.7" stroke="#1c1c1c"/>
<text transform="translate(36.2 320.4) rotate(-89.97) scale(1 1.03)" font-size="5.4" text-anchor="middle" fill="#222" stroke="#222" stroke-width="0.2">4</text>
<line x1="39.6" y1="288" x2="42.4" y2="288" stroke-width="0.7" stroke="#1c1c1c"/>
<text transform="translate(36.2 288) rotate(-89.97) scale(1 1.03)" font-size="5.4" text-anchor="middle" fill="#222" stroke="#222" stroke-width="0.2">6</text>
<line x1="39.6" y1="255.6" x2="42.4" y2="255.6" stroke-width="0.7" stroke="#1c1c1c"/>
<text transform="translate(36.2 255.6) rotate(-89.97) scale(1 1.03)" font-size="5.4" text-anchor="middle" fill="#222" stroke="#222" stroke-width="0.2">8</text>
<line x1="75.3" y1="256.41" x2="75.3" y2="286.87" stroke-width="0.5" stroke="#1c1c1c" stroke-dasharray="1.2 1"/>
<line x1="75.3" y1="309.06" x2="75.3" y2="341.14" stroke-width="0.5" stroke="#1c1c1c" stroke-dasharray="1.2 1"/>
<rect x="63.5" y="286.87" width="23.6" height="22.19" fill="#f2636c" stroke-width="0.7" stroke="#333"/>
<line x1="63.5" y1="298.37" x2="87.1" y2="298.37" stroke-width="0.7" stroke="#3a3a3a"/>
<line x1="69.5" y1="256.41" x2="81.1" y2="256.41" stroke-width="0.7" stroke="#1c1c1c"/>
<line x1="69.5" y1="341.14" x2="81.1" y2="341.14" stroke-width="0.7" stroke="#1c1c1c"/>
<line x1="63.5" y1="385.2" x2="87.1" y2="385.2" stroke-width="0.8" stroke="#111"/>
<line x1="104.4" y1="275.53" x2="104.4" y2="335.47" stroke-width="0.5" stroke="#1c1c1c" stroke-dasharray="1.2 1"/>
<line x1="104.4" y1="381.31" x2="104.4" y2="385.2" stroke-width="0.5" stroke="#1c1c1c" stroke-dasharray="1.2 1"/>
<rect x="92.6" y="335.47" width="23.6" height="45.85" fill="#808080" stroke-width="0.7" stroke="#333"/>
<line x1="92.6" y1="345.83" x2="116.2" y2="345.83" stroke-width="0.7" stroke="#3a3a3a"/>
<line x1="98.6" y1="275.53" x2="110.2" y2="275.53" stroke-width="0.7" stroke="#1c1c1c"/>
<line x1="92.6" y1="385.2" x2="116.2" y2="385.2" stroke-width="0.8" stroke="#111"/>
<path d="M75.4 242.3V239.3H87.55M92.35 239.3H104.5V275.6" stroke="#1c1c1c" stroke-width="0.7" fill="none"/>
<text transform="translate(89.95 242.5) rotate(0.03) scale(1 1.03)" font-size="7" text-anchor="middle" fill="#f02020" stroke="#f02020" stroke-width="0.15">*</text>
<line x1="89.4" y1="391" x2="89.4" y2="394.4" stroke-width="0.8" stroke="#1c1c1c"/>
<text transform="translate(89.4 401.8) rotate(0.03) scale(1 1.03)" font-size="4.9" text-anchor="middle" fill="#222" stroke="#222" stroke-width="0.1">STAD</text>
<text transform="translate(89.4 408.2) rotate(0.03) scale(1 1.03)" font-size="5.3" text-anchor="middle" fill="#222" stroke="#222" stroke-width="0.1">(num(T)=408; num(N)=211)</text>
<text transform="translate(10.6 318.6) rotate(-89.97) scale(1 1.03)" font-size="9.6" text-anchor="middle" stroke="#1a1a1a" stroke-width="0.15">Relative mRNA level</text>
<text transform="translate(23.2 318.4) rotate(-89.97) scale(1 1.03)" font-size="9.6" text-anchor="middle" stroke="#1a1a1a" stroke-width="0.15">of NHF4A</text>
<path d="M77.34 319.71h0M75.14 289.88h0M73.79 321.67h0M75.36 298.13h0M73.35 319.56h0M74.36 321h0M76.23 268.34h0M73.1 278.61h0M76.04 302.29h0M72.97 305.07h0M75.44 304.15h0M74.06 285.65h0M73.04 292.49h0M76.94 316.48h0M75.39 292.4h0M76.08 310.86h0M75.1 313.83h0M77.68 308.32h0M74.41 281.22h0M74 321.56h0M76.58 298.64h0M74.82 290.01h0M77.5 286.41h0M76.97 312.04h0M77.27 284.13h0M75.16 296.87h0M73.25 278.3h0M75.92 299.22h0M73.32 294.28h0M74.5 311.45h0M73.47 266.32h0M74.08 303.93h0M76.73 291.64h0M73.75 293.03h0M73.82 315.81h0M76.41 304.3h0M73.46 278.71h0M74.92 277.29h0M77.56 293.49h0M76.76 282.54h0M73.91 309.84h0M74.79 260.39h0M73.38 280.63h0M77.65 318.07h0M76.61 293.61h0M74.48 282.89h0M73.33 299h0M75.7 289.94h0M74.68 295.8h0M75.08 271.67h0M75.66 276.19h0M77.06 302.35h0M77.26 292.49h0M76.83 287.08h0M76.45 296.87h0M77.41 284.82h0M77.13 281.89h0M73.4 312.42h0M73.09 308.71h0M76.28 283.54h0M74.13 300.1h0M74.31 285.7h0M73.74 319.36h0M74 298.21h0M75.58 303.82h0M74.25 281.48h0M77.3 317.48h0M74.19 295.94h0M75.04 293.65h0M74.67 286.14h0M75.65 292.61h0M77.18 284.94h0M77.61 283.91h0M75.71 312.68h0M73.57 320.73h0M77.27 293.46h0M76.26 296.14h0M75.95 293.15h0M75.21 297.81h0M77.7 298.91h0M73.26 313.12h0M77.22 326.09h0M76.44 305.61h0M77.29 306.4h0M74.59 328.6h0M77.08 312.78h0M74.9 333.68h0M75.65 287.54h0M75.9 332.89h0M75.82 315.11h0M73.28 280.31h0M77.12 334.67h0M76.4 342.2h0M75.69 320.11h0M75.01 277.33h0M76.5 292.8h0M73.04 303.53h0M74.01 314.07h0M76.25 309.59h0M77.32 322.63h0M74.13 296.47h0M76.16 281.18h0M73.87 295.79h0M76.07 277.32h0M75.02 261.48h0M76.1 284.02h0M73.85 307.34h0M77.29 327.52h0M77.13 282.72h0M74.42 315.34h0M73.55 280.55h0M76.97 332.39h0M76.31 296.12h0M73.71 282.65h0M75.06 301.54h0M74.89 298.95h0M75.9 284.14h0M76.93 313.12h0M77.61 296.29h0M73.05 303.93h0M77.09 294.75h0M75.64 268.64h0M74.38 289.37h0M73.55 295.97h0M75.08 300.45h0M74.04 262.28h0M73.58 291.49h0M75.04 271.8h0M75.92 289.28h0M77.5 315.91h0M76.19 324.88h0M73.76 290.29h0M72.95 276.82h0M73.76 325.95h0M74.21 291.79h0M75.4 313.21h0M75.85 273.16h0M76.7 296.18h0M77.25 315.53h0M76.37 259.98h0M73.52 274.37h0M77.27 321.92h0M74.71 289.39h0M76.72 331.7h0M77.43 312.96h0M73.88 323.25h0M76.37 290.8h0M76.34 285.8h0M73.92 321.18h0M77.59 254.62h0M75.48 327.64h0M77.27 292.76h0M77.01 312.75h0M75.02 301.4h0M75.54 290.6h0M73.04 294.45h0M76.78 318.31h0M73.73 266.16h0M74.51 283.82h0M73.61 294.49h0M75.38 306.87h0M76.21 302.81h0M77.44 332.08h0M73.31 342.33h0M73.96 294.79h0M76.4 312.12h0M75.97 299.48h0M75.59 332.43h0M74.4 302.03h0M77.22 323.33h0M73.9 272.47h0M75.42 267.93h0M75.65 336.39h0M75.32 289.91h0M75.81 274.91h0M75.38 288.37h0M75.6 324.07h0M75.26 277.33h0M75.49 299.4h0M74.89 303.32h0M74.19 256.22h0M75.17 308.22h0M76.82 283.04h0M77.22 282.69h0M73.82 313.01h0M75.87 294.52h0M76.64 288.16h0M73.01 301.35h0M76.2 292.31h0M74.45 284.35h0M73.4 312.83h0M76.41 276.47h0M74.1 280.95h0M73.85 281.39h0M74.7 316.51h0M74.88 300.69h0M73.88 307.71h0M75.93 298.93h0M76.99 311.66h0M75.84 314.4h0M76.46 288.48h0M76.79 307.53h0M74.41 283.62h0M77.33 306.23h0M77.16 283.65h0M76.39 287.73h0M74.15 286.63h0M74.92 268.05h0M76.69 276.76h0M76.19 283.62h0M72.99 283.45h0M77.27 288.35h0M77.55 270.02h0M76.54 280.36h0M75.31 282.24h0M73.24 301.65h0M73.41 308h0M75.37 273.96h0M75.63 291.41h0M73.88 289.71h0M76.93 287.44h0M73.36 254.38h0M73.2 299.51h0M76.57 277.12h0M74.47 303.14h0M74.96 318.85h0M75.78 292.29h0M76.95 268.06h0M73.77 294.5h0M74.85 326.19h0M73.84 288.19h0M72.97 285.55h0M77.19 277.68h0M77.03 287.62h0M75.92 324.48h0M75.32 317.71h0M77.62 282.68h0M77.27 292.05h0M76.47 310.47h0M74.85 290.93h0M77.2 330.59h0M76.58 276.01h0M76.57 316.58h0M73.24 321.67h0M74.54 280.26h0M74.61 299.58h0M75.97 296.38h0M77.43 306.54h0M76.1 306.43h0M75.63 311.25h0M75.46 273.61h0M76.56 315.05h0M77.6 319.48h0M76.45 271.42h0M74.13 293.23h0M73.84 301.79h0M74.7 293.43h0M77.25 285.37h0M75.54 288.7h0M75.63 345.54h0M77.68 299.3h0M73.27 318.86h0M75.77 322.78h0M77.36 296.58h0M73.67 302.56h0M75.28 308.07h0M75.83 294.91h0M74.92 255.01h0M75.43 280.76h0M74.27 311.43h0M76.04 307.16h0M76.34 311.03h0M74.32 302.57h0M73.11 283h0M73.65 295.68h0M77.21 296.37h0M76.49 315.42h0M77.43 279.61h0M74.96 260.68h0M75.19 278.88h0M75.41 283.18h0M77.4 299.25h0M77.6 300.48h0M76.82 317.55h0M75.9 304.24h0M75.09 302.49h0M75.43 295.16h0M73.5 291.07h0M75.09 322.81h0M74.16 287.19h0M76.63 313.8h0M75.45 306.51h0M76.42 297.59h0M77.18 296.24h0M76.66 287.77h0M74.2 309.34h0M76.19 309.34h0M75.94 319.8h0M76.52 306.8h0M77.6 291.71h0M77.3 283.81h0M73.19 293.08h0M74.2 300.56h0M73.39 320.12h0M75.5 285.12h0M76.15 289.8h0M75.54 293.43h0M75.2 309.14h0M73.91 310.12h0M76.93 314.01h0M73.26 271.3h0M75.89 272.16h0M76.59 273.73h0M74.14 292.42h0M76.79 277.85h0M77.65 315.35h0M74.46 277.01h0M77.32 326.33h0M74.95 306.19h0M77.1 302.64h0M73.28 290.75h0M75.23 276.09h0M76.19 284.94h0M73.27 306.64h0M73.92 266.21h0M74.36 300.95h0M76.38 303.46h0M73.59 302.15h0M74.62 311.17h0M73.46 299.59h0M76.3 314.51h0M77.41 334.74h0M77.28 314.5h0M74.36 327.98h0M74.42 284.15h0M77.19 332.05h0M74.09 271.24h0M74.64 308.38h0M74.8 283.34h0M75.61 306.24h0M76.73 288.95h0M75.6 331.21h0M73.75 305.85h0M74.25 294.75h0M73.01 335.28h0M75.62 320.15h0M77.54 299.2h0M73.21 316.48h0M75.52 324.28h0M73.29 295.06h0M76.44 304.49h0M75.94 290.6h0M73.59 301.55h0M74.08 297.62h0M73.96 323.86h0M76.57 294.73h0M74.79 319.43h0M76.13 322.56h0M75.27 255.23h0M76.3 325.86h0M77.29 303.83h0M76.1 326.41h0M77 278.35h0M77.17 284.76h0M77.5 330.05h0M76.31 311.35h0M76.75 314.42h0M73.6 314.06h0M76.46 287.71h0M73.7 278.86h0M73.88 297.93h0M77.55 310.7h0M73.18 289.88h0M76.01 300.21h0M76.62 288.32h0M75.1 294.04h0M75.7 290.87h0M73.42 292.64h0M73.79 299.65h0M76.34 294.13h0M75.75 283.55h0M74.25 294.97h0M73.73 285.15h0M75.53 296.15h0M76.82 313h0M77.16 311.26h0M77.29 295.05h0M77.49 309.74h0M75.22 277.27h0M77.45 295.83h0M76.75 291.06h0M75.38 314.02h0M74.22 281.82h0M74.04 269.69h0M72.95 298.58h0M76.72 314.6h0M76.32 293.84h0M73.65 305.48h0M74.44 303.65h0M75.38 299.13h0M75.96 259.4h0M75.47 282.26h0M73.62 297.54h0M76.84 296.79h0M76.96 297.88h0M74.2 293.53h0M76.34 303.86h0M75.15 279.45h0M77.49 284.69h0M74.36 328.36h0M76.69 315.95h0M73.34 332.93h0M76.87 276.21h0M75.42 290.88h0M73.66 274.38h0M74.39 288.98h0M73.26 310.91h0M76.33 304.08h0M74.63 277.27h0M74.79 300.3h0M75.12 305.04h0M76.04 262.61h0M72.96 304.15h0M74.04 317.91h0M75.61 276.46h0M77.66 299.52h0M76.74 296.21h0M74.29 289.99h0M74.7 272.08h0M74.52 312.1h0M74.78 300.79h0M73.86 304.08h0M76.41 309.33h0M75.6 318.38h0M76.37 257.5h0M73.34 314.04h0M73.58 266.51h0M76.3 273.66h0M73.76 281.24h0M75.75 325.91h0M73.33 276.47h0M73.5 295.31h0M74.85 286.14h0M74.95 259.27h0M75.36 278.42h0M76.84 316.04h0M74.75 322.3h0M72.97 306.31h0M74.82 280.16h0M76.69 313.26h0M76.07 347.1h0M74.49 299.71h0M74.54 299.18h0M74.71 302.07h0M75.34 304.08h0M75.83 288.56h0M73.66 330.69h0M75.53 292.74h0M74.59 336.94h0M76.32 307.21h0M77.64 296.94h0M76.91 326.29h0M73.85 299.88h0M73.85 272.29h0M73.3 305.79h0M76.25 296.08h0M74.48 272.5h0M75.12 281h0M73.5 304.51h0M77.24 286.99h0M75.51 298.57h0M74.17 319.08h0M77.26 305.8h0M75.79 262.59h0M73.49 298.61h0M77.21 289.96h0M74.06 310.62h0M73.79 328.34h0M75.53 312.57h0M73.76 292.69h0M77.64 294.72h0M74.38 271.56h0M76.12 307.05h0M75.74 298.32h0M76.76 315.12h0M75.15 284.55h0M73.59 295.64h0M73.73 315.19h0M75.39 281.07h0M74.49 298.98h0M75.98 272.86h0M73.59 269.91h0M77.5 290.36h0M74.87 313.88h0M75.89 309.26h0M76.51 308.59h0M75.23 326.04h0M77 261.37h0M74.86 298.11h0M77.25 318.94h0M75.42 287.21h0M77.24 316.49h0M74.44 300.01h0M77.22 268.7h0M76.41 286.82h0M74.36 322.36h0M75.75 314.8h0M75.05 288.21h0M75.31 292.83h0M76.24 301.76h0M75.43 293.23h0M73.94 371.74h0M74.76 374.65h0M73.06 346.74h0M77.73 356.89h0M77.21 366.98h0M76.89 375.23h0M76.58 360.98h0M77.4 380.32h0M76.82 379.28h0M75.5 345.11h0M72.7 374.31h0M74.26 370.97h0M73.03 347.41h0M76.94 367.98h0M74.55 360.2h0M72.94 383.1h0M77.37 371.67h0M75.29 345.81h0M77.78 364.87h0M73.77 372.19h0M77.5 347.34h0M73.72 349.78h0M74.99 250.74h0M75.48 248.31h0M74.22 245.88h0M77.19 253.98h0M77.68 384.88h0M74.35 384.23h0M76.16 383.58h0M102.44 335.95h0M103.7 327.46h0M106.52 331.83h0M102.85 330.46h0M105.54 366.65h0M102.58 331.68h0M103.27 354.64h0M103.14 356.91h0M103.07 324.06h0M105.99 345.75h0M103.99 324.09h0M105.03 365.61h0M103.3 376.58h0M105.4 359.59h0M102.63 351.83h0M106.92 325.11h0M104.75 366.42h0M102.42 340.67h0M103.4 358.68h0M106.06 355.71h0M105.83 336.61h0M103.38 341.03h0M103.09 351.65h0M106.51 327.86h0M104.42 343.72h0M105.8 348.27h0M104.6 375.86h0M103.06 323.23h0M103.93 369.83h0M105.36 355.98h0M104.63 343.92h0M106.26 367.06h0M106.77 355.82h0M103.03 365.93h0M105.12 346.14h0M103.33 357.51h0M105.98 373.91h0M106 337.74h0M103.26 346.28h0M104.98 329.24h0M105.06 352.29h0M105.63 347.91h0M103.06 377.48h0M102.93 362.44h0M104.29 329.09h0M104.32 345.82h0M102.55 350.3h0M106.56 319.04h0M106 366.35h0M103.34 356.45h0M102.4 339.46h0M103.71 336.83h0M103.47 362.26h0M105.03 361.59h0M103.02 322.43h0M103.42 332.09h0M106.19 334.62h0M105.98 327h0M103.95 332.5h0M103.24 341.7h0M104.55 343.27h0M105.85 348.81h0M104.39 338.92h0M105.78 348.72h0M106.47 336.28h0M102.88 345.01h0M104.24 358.6h0M102.57 339.45h0M105.86 336.41h0M103.42 349.11h0M104.85 359.59h0M106.68 347h0M103.95 329.94h0M105.13 371.7h0M105.32 331.99h0M102.48 343.88h0M106.35 361.73h0M105.04 327.14h0M104.09 334.29h0M106.25 359.76h0M103.23 368.67h0M103.87 328.75h0M102.99 339.65h0M103.18 329.23h0M103.68 343.91h0M104.35 330.2h0M106.34 323.53h0M103.18 348.97h0M105.52 352.61h0M103.94 343.71h0M103.07 348.42h0M103.46 344.84h0M105.63 376.68h0M103.49 325.05h0M106.7 353.95h0M103.93 340.77h0M106.55 345.38h0M102.3 373.79h0M102.6 354.92h0M106.44 333.59h0M104.69 360.6h0M102.46 323.19h0M102.4 357.34h0M102.92 340.55h0M103.7 351.34h0M104.24 350.26h0M105.59 356.37h0M103.45 350.33h0M102.91 351.62h0M103.18 371.65h0M104.15 352.79h0M104.06 322.82h0M103.6 340.22h0M103.86 356.59h0M102.32 346.94h0M105.23 343.38h0M106.88 374.91h0M103.63 359.8h0M103.24 365.34h0M105.51 379.83h0M106.37 368.14h0M103.33 382.89h0M104.25 352.67h0M104.08 353.14h0M103.78 333.13h0M104.59 342.07h0M104.13 349.71h0M104.48 338.59h0M103.35 335.96h0M102.65 327.18h0M102.92 357.2h0M105 333.72h0M105.56 354.13h0M102.31 367.55h0M102.5 359.91h0M104.14 338.21h0M105.01 330.09h0M104.45 341.56h0M102.31 353.6h0M103.87 336.92h0M103.46 331.67h0M105.41 361.1h0M105.15 340.8h0M106.78 331.16h0M106.72 361.74h0M105.9 331.81h0M105.21 295.7h0M104.17 306.01h0M103.53 285.22h0M106.42 307.7h0M106.57 324.96h0M102.85 301.41h0M103.68 308.78h0M106.89 319.35h0M103.12 315.4h0M105.46 315.1h0M102.2 299.57h0M104.09 314.86h0M104.57 294.23h0M104.83 295.52h0M104.89 285.14h0M106.85 310.13h0M103.86 282.37h0M103.7 290.93h0M105.54 292.4h0M106.83 285.48h0M102.97 295.66h0M104.56 298.57h0M103.97 312.53h0M105.8 300.06h0M103.23 384.31h0M103.69 384.57h0M104.67 384.75h0M102.33 384.96h0M102.53 382.69h0M102.59 383.59h0M106.01 383.49h0M102.85 382.11h0M106.52 385.01h0M103.32 383.39h0M106.14 383.8h0M105.72 384.3h0M105.72 384.04h0M103.74 382.49h0M106.38 382.25h0M104.95 383.7h0M105.68 382.98h0M106.32 382.34h0M102.65 383.86h0M105.48 384.38h0M102.96 385.15h0M105.04 381.85h0M107.05 384.72h0M105.58 383.71h0M105.28 383.79h0M106.85 381.68h0M102.25 382.66h0M102.62 385.05h0M103.49 382.59h0M107.17 384.77h0M103.72 385.11h0M104.82 383.48h0M103.94 384.1h0M106.16 382.21h0M103.48 383.8h0M105.21 382.47h0M107.1 383.81h0M105.61 383.25h0M106.16 384.68h0M102.91 384.82h0" stroke="#000" stroke-width="1.3" stroke-linecap="round" fill="none"/>
<rect x="198.4" y="233.4" width="94.1" height="157.6" fill="none" stroke-width="0.8" stroke="#1c1c1c"/>
<line x1="195.6" y1="385.2" x2="198.4" y2="385.2" stroke-width="0.7" stroke="#1c1c1c"/>
<text transform="translate(192.2 385.2) rotate(-89.97) scale(1 1.03)" font-size="5.4" text-anchor="middle" fill="#222" stroke="#222" stroke-width="0.2">0</text>
<line x1="195.6" y1="359.4" x2="198.4" y2="359.4" stroke-width="0.7" stroke="#1c1c1c"/>
<text transform="translate(192.2 359.4) rotate(-89.97) scale(1 1.03)" font-size="5.4" text-anchor="middle" fill="#222" stroke="#222" stroke-width="0.2">2</text>
<line x1="195.6" y1="333.6" x2="198.4" y2="333.6" stroke-width="0.7" stroke="#1c1c1c"/>
<text transform="translate(192.2 333.6) rotate(-89.97) scale(1 1.03)" font-size="5.4" text-anchor="middle" fill="#222" stroke="#222" stroke-width="0.2">4</text>
<line x1="195.6" y1="307.8" x2="198.4" y2="307.8" stroke-width="0.7" stroke="#1c1c1c"/>
<text transform="translate(192.2 307.8) rotate(-89.97) scale(1 1.03)" font-size="5.4" text-anchor="middle" fill="#222" stroke="#222" stroke-width="0.2">6</text>
<line x1="195.6" y1="282" x2="198.4" y2="282" stroke-width="0.7" stroke="#1c1c1c"/>
<text transform="translate(192.2 282) rotate(-89.97) scale(1 1.03)" font-size="5.4" text-anchor="middle" fill="#222" stroke="#222" stroke-width="0.2">8</text>
<line x1="195.6" y1="256.2" x2="198.4" y2="256.2" stroke-width="0.7" stroke="#1c1c1c"/>
<text transform="translate(192.2 256.2) rotate(-89.97) scale(1 1.03)" font-size="5.4" text-anchor="middle" fill="#222" stroke="#222" stroke-width="0.2">10</text>
<line x1="230.7" y1="297.48" x2="230.7" y2="315.54" stroke-width="0.5" stroke="#1c1c1c" stroke-dasharray="1.2 1"/>
<line x1="230.7" y1="327.41" x2="230.7" y2="344.18" stroke-width="0.5" stroke="#1c1c1c" stroke-dasharray="1.2 1"/>
<rect x="218.9" y="315.54" width="23.6" height="11.87" fill="#f2636c" stroke-width="0.7" stroke="#333"/>
<line x1="218.9" y1="321.22" x2="242.5" y2="321.22" stroke-width="0.7" stroke="#3a3a3a"/>
<line x1="224.9" y1="297.48" x2="236.5" y2="297.48" stroke-width="0.7" stroke="#1c1c1c"/>
<line x1="224.9" y1="344.18" x2="236.5" y2="344.18" stroke-width="0.7" stroke="#1c1c1c"/>
<line x1="218.9" y1="385.2" x2="242.5" y2="385.2" stroke-width="0.8" stroke="#111"/>
<line x1="259.8" y1="303.03" x2="259.8" y2="324.18" stroke-width="0.5" stroke="#1c1c1c" stroke-dasharray="1.2 1"/>
<line x1="259.8" y1="343.53" x2="259.8" y2="355.14" stroke-width="0.5" stroke="#1c1c1c" stroke-dasharray="1.2 1"/>
<rect x="248" y="324.18" width="23.6" height="19.35" fill="#808080" stroke-width="0.7" stroke="#333"/>
<line x1="248" y1="336.18" x2="271.6" y2="336.18" stroke-width="0.7" stroke="#3a3a3a"/>
<line x1="254" y1="303.03" x2="265.6" y2="303.03" stroke-width="0.7" stroke="#1c1c1c"/>
<line x1="254" y1="355.14" x2="265.6" y2="355.14" stroke-width="0.7" stroke="#1c1c1c"/>
<line x1="248" y1="385.2" x2="271.6" y2="385.2" stroke-width="0.8" stroke="#111"/>
<path d="M230.4 242.3V239.3H242.55M247.35 239.3H259.5V301.5" stroke="#1c1c1c" stroke-width="0.7" fill="none"/>
<text transform="translate(244.95 242.5) rotate(0.03) scale(1 1.03)" font-size="7" text-anchor="middle" fill="#f02020" stroke="#f02020" stroke-width="0.15">*</text>
<line x1="245.15" y1="391" x2="245.15" y2="394.4" stroke-width="0.8" stroke="#1c1c1c"/>
<text transform="translate(245.15 401.8) rotate(0.03) scale(1 1.03)" font-size="4.9" text-anchor="middle" fill="#222" stroke="#222" stroke-width="0.1">STAD</text>
<text transform="translate(245.15 408.2) rotate(0.03) scale(1 1.03)" font-size="5.3" text-anchor="middle" fill="#222" stroke="#222" stroke-width="0.1">(num(T)=408; num(N)=211)</text>
<text transform="translate(166.8 318.6) rotate(-89.97) scale(1 1.03)" font-size="9.6" text-anchor="middle" stroke="#1a1a1a" stroke-width="0.15">Relative mRNA level</text>
<text transform="translate(179.4 318.4) rotate(-89.97) scale(1 1.03)" font-size="9.6" text-anchor="middle" stroke="#1a1a1a" stroke-width="0.15">of RARA</text>
<path d="M230.64 315.24h0M228.8 324.05h0M231.03 322.12h0M228.92 319.8h0M229.34 326.3h0M230.61 326.32h0M228.46 325.87h0M228.52 316.27h0M228.59 315.45h0M229.11 326.06h0M229.21 318.22h0M230.27 314.56h0M232.24 328.82h0M230.95 323.74h0M231.48 319.51h0M232.89 326.4h0M232.52 326.28h0M232.37 311.86h0M231.82 321.69h0M229.04 320.43h0M228.79 319.52h0M231.97 313.97h0M229.75 317.61h0M229.25 322.61h0M233 321.46h0M232.25 310.63h0M232.16 320.6h0M232.22 322.16h0M232.34 330.16h0M228.7 318.5h0M231.73 312.87h0M229.45 324.07h0M231.08 319.73h0M229.34 322.37h0M231.48 327.78h0M232.25 315.91h0M229.97 329.6h0M229.6 311.95h0M228.67 314.95h0M229.87 325.68h0M231.92 321.66h0M230.93 327.38h0M228.73 323.67h0M228.91 326.31h0M228.25 326.83h0M230.71 313.82h0M230.89 327.69h0M232.96 316.94h0M229.8 316.27h0M231.97 303.99h0M230.35 301.17h0M233.01 305h0M231.73 319.64h0M229.09 312.52h0M232.94 323.27h0M229.81 308.3h0M233.15 318h0M228.94 313.81h0M231.42 327.01h0M229.26 327.75h0M232.48 335.01h0M231.34 333.58h0M228.77 332.7h0M232.39 321.69h0M231.53 324.9h0M230.3 330.3h0M231.2 326.09h0M231.06 317.14h0M231.34 323.58h0M230.43 321.56h0M232.86 331.16h0M228.96 327.87h0M231.89 315.95h0M233.15 326.87h0M230.21 308.12h0M233.15 318.27h0M230.66 324.72h0M231.45 319.67h0M232.89 304.63h0M230.76 313.85h0M233.17 335.12h0M231.76 305.07h0M229.45 314.32h0M230.88 317.95h0M232.53 330.38h0M231.42 318.98h0M228.57 314.65h0M230.65 335.86h0M229.41 326.57h0M232.05 316.02h0M230.95 337.74h0M228.96 308.36h0M230.03 330.09h0M229.93 319.4h0M232.52 319.93h0M229.11 319.14h0M230.14 325.13h0M232.71 314.25h0M228.56 331.21h0M231.35 315.39h0M232.58 321.8h0M231.54 322.16h0M230.35 327.1h0M229.78 313.39h0M231.35 320.57h0M231.67 323.47h0M229.1 309.61h0M230.53 311.99h0M228.85 311.62h0M231.25 305.78h0M229.99 307.44h0M231.66 311.9h0M229.75 322.06h0M230.24 329.61h0M230.32 313.83h0M232.3 311.49h0M230.73 329.49h0M232.91 316.1h0M229.38 329.13h0M231.1 310.1h0M229.63 325.22h0M232.47 303.96h0M232.87 325.64h0M230.14 330h0M230.44 321.85h0M228.52 333.23h0M230.4 327.57h0M232.97 317.87h0M231.56 324.95h0M229.42 308.32h0M232.68 325.31h0M229.46 318.88h0M232.3 328.39h0M232.45 317.51h0M228.7 330.63h0M232.68 327.29h0M230.07 314.26h0M231.82 316.95h0M232.69 325.26h0M232.95 328.38h0M230.55 309.06h0M230.01 319.54h0M231.55 328.8h0M231.23 319.67h0M233.16 297.74h0M230.18 325.79h0M231.71 315.32h0M233.19 332.53h0M230.21 312.42h0M231.48 317.38h0M229.25 316.05h0M230.05 295.33h0M231.91 315.87h0M228.62 314.47h0M231.32 315.01h0M231.91 310.35h0M231.85 321.69h0M232.08 305.33h0M228.28 314.14h0M232.5 314.61h0M228.32 303.81h0M229.96 327.72h0M228.76 331.91h0M232.15 323.77h0M228.82 324.67h0M231.04 311.45h0M230.76 318.76h0M229.67 318.6h0M230.27 320.21h0M228.47 327.85h0M230.99 319.4h0M230.5 311.93h0M232.45 318.91h0M228.97 324.67h0M230.23 310.83h0M231.26 323.33h0M230.27 306.52h0M228.25 338.4h0M231.87 312.13h0M231.76 308.02h0M228.34 315.36h0M228.75 312.36h0M231.42 328.5h0M232.44 299.66h0M228.59 312.62h0M229.5 318.75h0M229.84 306.34h0M230.64 308.65h0M232.93 331.73h0M231.04 336.42h0M230.17 340.33h0M229.7 321.46h0M230.04 321.8h0M230.35 328.11h0M230.35 329.52h0M230.45 320.15h0M228.51 305.48h0M230.84 316.24h0M229.31 329.82h0M228.7 323.95h0M230.62 326.63h0M229.35 315.85h0M228.24 321.38h0M230.23 331.49h0M231.17 320.32h0M233 321.56h0M230.04 329.21h0M229.71 312.49h0M229.78 330.4h0M230.69 328.76h0M228.47 335.96h0M228.66 322.84h0M232.18 321.43h0M230.33 314.38h0M229.63 315.67h0M231.6 328.2h0M232.36 299.65h0M229.84 308.43h0M232.14 328.01h0M231.41 306.55h0M228.44 307.38h0M231.32 316.15h0M231.39 340.37h0M228.31 327.8h0M231.1 307.91h0M228.23 327.23h0M231.6 322.1h0M233.12 330.45h0M232.11 318.35h0M230.4 323.07h0M230.44 321.26h0M230.38 329.89h0M231.87 315.66h0M228.56 316.14h0M231.53 308.93h0M230.94 310.28h0M229.75 318.01h0M232.97 318.47h0M229.26 339.77h0M230.27 328.67h0M228.82 337.68h0M232.57 325.14h0M230.36 323.53h0M230.09 320.96h0M230.67 330.56h0M231.65 339.25h0M228.73 332.96h0M231.91 311.49h0M229.21 315.51h0M229.93 311.26h0M231.16 317.15h0M230.8 314.37h0M232.41 330.11h0M229.99 313.96h0M233.1 330.02h0M229.84 326.39h0M229.51 323.42h0M231.85 327.4h0M228.52 327.37h0M232.32 324.41h0M230.36 331.35h0M231.29 311.66h0M232.75 343.61h0M230.48 330.09h0M231.97 327.69h0M228.71 320.82h0M228.38 327.26h0M231.69 305.4h0M229.87 331.45h0M228.96 325.95h0M232.23 307.13h0M228.69 325.88h0M229.2 320.04h0M230.87 327.36h0M232.02 324.78h0M231.11 324.18h0M231.65 305.28h0M230.02 333.11h0M229.65 308.03h0M232.49 325.58h0M229.45 322.34h0M228.3 328.15h0M229.67 327.87h0M229.46 322.9h0M229.56 314.5h0M229.63 313.91h0M232.57 323.15h0M229 311.04h0M231.25 310.39h0M230.92 334.65h0M231.5 322.44h0M232.8 332.14h0M228.47 320.27h0M232.88 328.06h0M229.37 331.38h0M230.46 309.62h0M232.92 331.08h0M230.73 311.04h0M229.36 328.78h0M232.95 324.62h0M231.49 305.31h0M228.56 308.04h0M231.03 318.03h0M228.8 323.7h0M232.56 313.82h0M228.51 321.87h0M228.35 323h0M231.05 324.19h0M232.48 308.09h0M232.12 322.78h0M230.83 324.83h0M229.12 321.81h0M230.69 329.43h0M229.19 322.72h0M230.63 323.89h0M228.59 330.1h0M233.06 332.51h0M231.01 320.43h0M229.88 316.44h0M231.71 315.79h0M232.95 299.13h0M232.83 330.32h0M228.3 308.41h0M230.65 337.26h0M231.26 332.58h0M231.27 328.54h0M230.8 317.94h0M233 322.86h0M232.55 317.16h0M232.99 320.5h0M232.35 319.13h0M231.64 321.01h0M231.99 332.81h0M232.24 322.78h0M232.17 318.06h0M233.08 321.33h0M229.88 316.85h0M229.93 329.12h0M229.51 306.37h0M231.13 319.93h0M231.57 329.17h0M230.47 322.64h0M229.08 319.57h0M228.95 303.3h0M232.12 321.56h0M229.86 311.33h0M229.5 320.4h0M230.81 308.59h0M229.12 321.9h0M229.36 303.4h0M231.83 323.84h0M231.57 313.91h0M228.59 318.6h0M232.02 331.93h0M230.27 321.13h0M233.15 315.2h0M232.76 327.01h0M233.15 315.37h0M232.15 324.94h0M232.11 318.26h0M230.1 329.5h0M229.64 308.16h0M230.58 333.37h0M232.29 329.33h0M230.1 311.07h0M228.53 320.45h0M229.23 317.15h0M232.59 323.84h0M229.91 301.66h0M232.85 326.34h0M232.93 312.61h0M229.16 310.55h0M232.61 312.65h0M231.83 311.4h0M230.06 312.18h0M228.8 324.37h0M228.56 324.33h0M229.12 300.82h0M229.73 322.95h0M229.11 319.06h0M230.9 313.65h0M231.04 313.86h0M232.94 320.52h0M228.61 332.04h0M229.75 320.75h0M232 317.89h0M229 312.12h0M229.85 326.11h0M232.16 328h0M233.06 324.4h0M232.43 332.89h0M230.53 318.36h0M233.09 313.69h0M228.32 301.72h0M228.46 320.64h0M229.01 330.19h0M229.26 314.68h0M228.3 308.66h0M230.7 318.37h0M231.46 305.91h0M228.28 326.78h0M229.72 320.13h0M231.29 314.76h0M230.05 319.59h0M229.79 333.44h0M229.98 319.27h0M230.28 312.72h0M230.9 329.06h0M232.77 328.99h0M229.37 319.4h0M232.61 305.54h0M229.01 328.08h0M229.64 322.75h0M229.38 314.64h0M231.12 308.98h0M229.62 309.67h0M228.68 303.54h0M231 324.45h0M230.69 328.82h0M230.09 312.03h0M228.21 326.27h0M231.07 328.29h0M231.36 321.19h0M230.69 325.05h0M230.61 320.45h0M229.6 336.01h0M230.41 339.38h0M229.37 307.78h0M232.35 313.37h0M232.71 319.35h0M230.72 327.77h0M232.93 331.33h0M230.65 316.35h0M232.41 328.57h0M230.72 320.53h0M229.28 324.53h0M232.37 316.5h0M232.79 313.32h0M231.63 344.32h0M232.25 317.28h0M232.21 334.57h0M229.72 314.14h0M229.42 306.94h0M230.76 319.69h0M229.92 322.26h0M232.76 318.22h0M232.86 332.98h0M231.54 323.32h0M228.75 323.87h0M229.75 303.69h0M229.13 323.33h0M233.13 326.42h0M231.31 335.23h0M228.49 311.37h0M232.54 311.34h0M232.57 319.55h0M231.05 336.63h0M230.66 309.6h0M230.12 325.7h0M229.01 322.49h0M232.18 319.84h0M232.08 319.64h0M231.67 308.69h0M229.56 328.95h0M229.14 322.1h0M232.91 329.34h0M229.85 332.04h0M229.65 304.02h0M232.96 329.89h0M232.07 337.8h0M229.87 336.67h0M230.64 323.3h0M228.38 310.86h0M230.57 314.29h0M231.92 329.6h0M231.1 321.34h0M229.41 315.5h0M228.46 322.91h0M229.98 318.39h0M231.4 342.43h0M230.27 324.95h0M230.57 326.7h0M233 317.79h0M231.63 314.61h0M232.01 314.87h0M232.89 333.16h0M232.71 325.61h0M233.19 321.43h0M230.84 310.4h0M228.48 315.79h0M228.95 307.46h0M231.8 327.98h0M231.83 323.56h0M231.44 327.66h0M231.73 307.77h0M228.73 330.34h0M230.57 318.83h0M228.48 303.71h0M228.56 326.51h0M230.39 322.99h0M228.84 307.94h0M231.92 331.56h0M230.22 316.19h0M231.28 329.17h0M228.43 332.06h0M228.47 322.48h0M230.57 325.81h0M230.15 317.95h0M230.54 320.98h0M232.46 304.21h0M230.63 307.95h0M233.12 327.85h0M228.8 325.35h0M232.53 323.41h0M230.74 315.5h0M230.1 245.88h0M232.7 273.62h0M229.7 282.64h0M228.3 284.58h0M230.2 287.16h0M231.9 289.74h0M229.1 292.32h0M232.7 293.61h0M232.3 350.37h0M229.9 347.14h0M231.7 345.86h0M261.94 344.15h0M258.79 328h0M259.74 329.57h0M259.33 351.85h0M259.08 346.01h0M260.62 329.32h0M261.36 342.62h0M259.78 329.01h0M259.77 330.29h0M262.38 351.9h0M261.43 316.81h0M261.2 348.35h0M258.98 324.19h0M260.78 338.86h0M260.77 340.31h0M258.63 345.07h0M262.4 332.4h0M259.21 348.58h0M259.58 334.75h0M261.33 336.32h0M258.6 335.2h0M259.49 318.26h0M262.06 326.57h0M257.8 334.55h0M261.69 352.93h0M259.46 344.98h0M261.31 349.69h0M261.23 344.1h0M261.03 342.02h0M260.31 338.45h0M258.18 343.65h0M261.13 332.28h0M262.25 344.34h0M260.14 336.54h0M259.98 319.4h0M261.97 326.14h0M260.82 320.13h0M259.6 339.36h0M258.23 313.85h0M260.15 344.39h0M262.46 342.2h0M259.26 346.4h0M259 333.99h0M260.96 338.83h0M259.4 342.24h0M258.87 354.52h0M257.62 343.32h0M259.37 323.05h0M259.06 337.87h0M261.86 339.74h0M258.39 326.2h0M258.09 337.81h0M261.19 316.53h0M258.82 323.66h0M257.64 352.1h0M261.59 333.02h0M261.02 329.16h0M261 340.42h0M258.59 346.64h0M259.87 313.89h0M261.56 339.13h0M260.35 322.7h0M260.6 332.87h0M258.25 326.12h0M259.7 323.9h0M259.66 336.61h0M260.89 322.15h0M261.03 329.09h0M258.58 324.67h0M258.63 316.8h0M259.32 350.08h0M257.74 331.78h0M260.98 315.92h0M260.22 313.68h0M260.42 325.7h0M259.27 331.36h0M262.42 332.28h0M257.81 352.94h0M258.01 347.85h0M258.38 316.46h0M258.86 331.89h0M259.11 343.16h0M259.84 349.77h0M259.28 337.86h0M259.3 319.79h0M258.8 334.18h0M257.58 324.59h0M258.84 340h0M258.06 319.8h0M260.06 326.83h0M259.06 345h0M260.61 319.49h0M260.8 346.91h0M259.57 339.09h0M259.45 347.04h0M260.14 347.3h0M260.17 334.58h0M258.62 328.36h0M257.66 324.51h0M261.48 332.88h0M258.46 341.17h0M261.84 340.78h0M260.96 325.17h0M261.22 349.34h0M260.26 345.46h0M261.9 330.96h0M261.68 308.38h0M257.87 335.65h0M260.22 333.65h0M261.81 344.2h0M260.08 335.17h0M262.47 329.65h0M257.57 334.52h0M260.7 327.36h0M258.05 324.99h0M259.68 344.75h0M260.41 333.04h0M258.37 349.74h0M260.87 328.65h0M260.22 331.63h0M259.18 321.88h0M257.59 348.73h0M258.6 341.95h0M257.86 338.71h0M261.31 340.96h0M260.29 348.94h0M258.01 309h0M261.57 340.15h0M261.12 341.11h0M257.67 334.04h0M261.49 338.23h0M257.65 329.3h0M258.32 328.22h0M259.11 329.42h0M258.42 335.52h0M260.68 312.5h0M257.72 354.61h0M260.32 352.24h0M258.76 350.27h0M261.07 319.72h0M262.34 328.88h0M258.7 321.78h0M260.87 338.93h0M257.83 308.74h0M258.95 330.92h0M261.72 326.37h0M260.85 344.16h0M261.09 342.17h0M259.97 342.46h0M259.42 321.65h0M260.15 329.36h0M262.41 331.61h0M259.36 333.41h0M260.46 337.42h0M262.07 328.48h0M260 328.45h0M261.33 321.86h0M258.45 342.12h0M261.12 337.66h0M257.67 313.76h0M258.45 323.3h0M260.6 329.75h0M261.11 334.76h0M257.76 353.88h0M258.31 331.25h0M257.69 340.09h0M259.4 310.86h0M257.93 330.03h0M260.51 312.73h0M262.08 327.75h0M258.93 328.73h0M258.46 332.92h0M260.7 328.33h0M258.34 329.21h0M259.38 327.21h0M258.25 321.7h0M259.44 346.82h0M259.87 339.99h0M258.47 318.7h0M259.18 330.28h0M260.44 310.01h0M259.46 332.83h0M258.16 341.4h0M259.36 347.79h0M261.03 322.06h0M260 385.2h0" stroke="#000" stroke-width="1.3" stroke-linecap="round" fill="none"/>
</g>
<g id="panelE">
<text transform="translate(331.9 233.6) rotate(0.03) scale(1 1.03)" font-size="13.5" stroke="#1a1a1a" stroke-width="0.15">E</text>
<rect x="334.5" y="247.6" width="128.5" height="123.4" fill="none" stroke-width="0.85" stroke="#161616"/>
<line x1="353.1" y1="371" x2="353.1" y2="373.6" stroke-width="0.7" stroke="#161616"/>
<text transform="translate(353.1 381.2) rotate(0.03) scale(1 1.03)" font-size="5.3" text-anchor="middle" fill="#222" stroke="#222" stroke-width="0.2">2</text>
<line x1="371.85" y1="371" x2="371.85" y2="373.6" stroke-width="0.7" stroke="#161616"/>
<text transform="translate(371.85 381.2) rotate(0.03) scale(1 1.03)" font-size="5.3" text-anchor="middle" fill="#222" stroke="#222" stroke-width="0.2">3</text>
<line x1="390.6" y1="371" x2="390.6" y2="373.6" stroke-width="0.7" stroke="#161616"/>
<text transform="translate(390.6 381.2) rotate(0.03) scale(1 1.03)" font-size="5.3" text-anchor="middle" fill="#222" stroke="#222" stroke-width="0.2">4</text>
<line x1="409.35" y1="371" x2="409.35" y2="373.6" stroke-width="0.7" stroke="#161616"/>
<text transform="translate(409.35 381.2) rotate(0.03) scale(1 1.03)" font-size="5.3" text-anchor="middle" fill="#222" stroke="#222" stroke-width="0.2">5</text>
<line x1="428.1" y1="371" x2="428.1" y2="373.6" stroke-width="0.7" stroke="#161616"/>
<text transform="translate(428.1 381.2) rotate(0.03) scale(1 1.03)" font-size="5.3" text-anchor="middle" fill="#222" stroke="#222" stroke-width="0.2">6</text>
<line x1="446.85" y1="371" x2="446.85" y2="373.6" stroke-width="0.7" stroke="#161616"/>
<text transform="translate(446.85 381.2) rotate(0.03) scale(1 1.03)" font-size="5.3" text-anchor="middle" fill="#222" stroke="#222" stroke-width="0.2">7</text>
<line x1="331.9" y1="366.4" x2="334.5" y2="366.4" stroke-width="0.7" stroke="#161616"/>
<text transform="translate(328.5 366.4) rotate(-89.97) scale(1 1.03)" font-size="5.3" text-anchor="middle" fill="#222" stroke="#222" stroke-width="0.2">0</text>
<line x1="331.9" y1="339.8" x2="334.5" y2="339.8" stroke-width="0.7" stroke="#161616"/>
<text transform="translate(328.5 339.8) rotate(-89.97) scale(1 1.03)" font-size="5.3" text-anchor="middle" fill="#222" stroke="#222" stroke-width="0.2">2</text>
<line x1="331.9" y1="313.2" x2="334.5" y2="313.2" stroke-width="0.7" stroke="#161616"/>
<text transform="translate(328.5 313.2) rotate(-89.97) scale(1 1.03)" font-size="5.3" text-anchor="middle" fill="#222" stroke="#222" stroke-width="0.2">4</text>
<line x1="331.9" y1="286.6" x2="334.5" y2="286.6" stroke-width="0.7" stroke="#161616"/>
<text transform="translate(328.5 286.6) rotate(-89.97) scale(1 1.03)" font-size="5.3" text-anchor="middle" fill="#222" stroke="#222" stroke-width="0.2">6</text>
<line x1="331.9" y1="260" x2="334.5" y2="260" stroke-width="0.7" stroke="#161616"/>
<text transform="translate(328.5 260) rotate(-89.97) scale(1 1.03)" font-size="5.3" text-anchor="middle" fill="#222" stroke="#222" stroke-width="0.2">8</text>
<text transform="translate(399.25 393.2) rotate(0.03) scale(1 1.03)" font-size="7" text-anchor="middle" fill="#222" stroke="#222" stroke-width="0.15">log2(TYMS TPM)</text>
<text transform="translate(316.4 309.3) rotate(-89.97) scale(1 1.03)" font-size="7" text-anchor="middle" fill="#222" stroke="#222" stroke-width="0.15">log2(HNF4A TPM)</text>
<text transform="translate(341.9 256.7) rotate(0.03) scale(1 1.03)" font-size="6.25" fill="#222" stroke="#222" stroke-width="0.15">p−value = 1.6e−06</text>
<text transform="translate(341.9 263.6) rotate(0.03) scale(1 1.03)" font-size="6.25" fill="#222" stroke="#222" stroke-width="0.15">R = 0.23</text>
<path d="M393.04 313.35h0M425.96 318.02h0M411.48 321.85h0M433.65 284.18h0M438.2 291.76h0M421.13 294.08h0M400.89 294.67h0M391.64 303.74h0M426.45 288.16h0M406.73 267.1h0M415.07 299.69h0M416.88 298.34h0M407.18 299.05h0M450.11 281.55h0M417.16 283.13h0M449.96 284.71h0M402.92 264.63h0M388.04 304.97h0M425.92 260.19h0M397.12 328.3h0M425.82 295.66h0M407.14 288.81h0M418.02 287.72h0M406.36 278.58h0M440.85 284.19h0M405.99 285.72h0M422.55 303.19h0M405.84 281.77h0M412.32 297.25h0M417.82 291.88h0M413.99 316.99h0M445.2 280.78h0M398.42 284.86h0M419.54 290.72h0M432.71 258.46h0M423.9 269.62h0M452.46 294.04h0M404.72 285.55h0M383.61 305.03h0M437.07 272.54h0M424.36 313.46h0M455.91 273.15h0M427.7 282.26h0M383.47 319.82h0M392.37 274.81h0M399.24 300.06h0M409.5 286.72h0M422.95 286.54h0M391.56 338.94h0M417 288.32h0M435.96 287.36h0M403.15 290.64h0M386.35 313.99h0M396.11 294.29h0M451.29 271.84h0M434.38 283.52h0M419.01 296.78h0M409.03 324.78h0M392.62 315.23h0M428.95 279.76h0M434.38 266.86h0M408.6 280.87h0M448.87 282.32h0M433.4 288.9h0M385.31 299.62h0M399.39 295.57h0M405.79 291h0M375.97 277.59h0M438.26 289.8h0M397.84 297.36h0M426.07 283.65h0M421.19 315.34h0M393.9 281.61h0M418.31 310.53h0M398.57 315.49h0M395.85 283.08h0M410.08 279.47h0M417.42 310.79h0M402.35 266.73h0M400.2 310.17h0M436.39 284.77h0M413.92 273.76h0M382.11 296.73h0M394.91 316.34h0M399.27 282.15h0M411.48 316.99h0M393.89 278.93h0M432.65 301.11h0M392.31 300.82h0M431.08 266.72h0M432.78 292.52h0M403.82 314.43h0M412.69 300.69h0M418.49 307.62h0M404.62 306.78h0M392.12 314.42h0M395.48 313.4h0M424.4 288.21h0M389.97 293.13h0M419.28 272.16h0M410.49 296.35h0M401.48 294.72h0M423.03 287.65h0M409.41 286.67h0M415.71 288.9h0M397.02 294.98h0M395.88 308.9h0M416.97 264.49h0M432.2 287.12h0M410.77 280.78h0M439.24 269.3h0M410.65 291.16h0M408.03 298.07h0M398.47 300.45h0M374.81 319.77h0M421.79 302.24h0M423.88 306.37h0M407.31 289.47h0M395.13 307.44h0M401.18 303.83h0M414.65 292.75h0M431.96 277.01h0M406.69 299.38h0M388.26 319.61h0M400.58 287.15h0M416.23 281.56h0M431.19 289.6h0M452.3 287.95h0M402.65 301.53h0M434.75 288.18h0M400.57 290.99h0M434.66 287.89h0M409.44 279.94h0M431.94 275.04h0M400.13 293.07h0M420.64 313.81h0M435.93 284.77h0M407.83 265.2h0M416.7 301.09h0M412.89 285.64h0M428.84 288.91h0M398.31 306.27h0M399.17 310.59h0M413.67 299.03h0M415.02 302.96h0M398.27 299.67h0M407.69 279.62h0M397.6 294.82h0M413.29 309.69h0M427.27 286.46h0M375.87 296.2h0M431.09 297.78h0M444.83 281.41h0M393.08 291.57h0M407.49 311.79h0M375.05 301.04h0M400.68 288.26h0M421.08 297.19h0M404.39 272.68h0M445.05 273.65h0M407.57 307.16h0M407.01 273.24h0M422.41 293.82h0M391.76 297.06h0M398.08 297.18h0M427.51 274.78h0M416.58 296.23h0M418.17 268.16h0M420.86 308.57h0M442.2 280.96h0M412.34 296.91h0M420.89 297.99h0M387.27 325.27h0M411.8 299.86h0M403.53 268.46h0M428.45 274.27h0M404.98 291.43h0M410.22 296.35h0M427.56 280.8h0M419.55 289.04h0M387.92 309.84h0M420.95 295.22h0M399.96 292.21h0M397.34 306.19h0M430.01 292.43h0M439.9 278.18h0M428.69 273.71h0M374.94 305.25h0M390.69 305.49h0M412.16 277.19h0M413.26 271.77h0M404.55 296.13h0M415.71 279.97h0M413.11 300.78h0M408.1 312.3h0M436.78 276.23h0M421.77 286.75h0M403.11 301.03h0M428.63 298.34h0M399.91 276.6h0M442.17 280.47h0M423.65 287.33h0M439.75 290.59h0M415.53 285.95h0M440 288.04h0M418.23 297.6h0M402.24 304.45h0M415.54 280.81h0M401.58 303.96h0M406.77 290.25h0M426.59 304.78h0M420.41 303.37h0M426.85 301.02h0M394.62 307.43h0M412.93 305.57h0M417.83 289.58h0M415.53 288.72h0M429.7 297.2h0M414.07 292.95h0M377.28 298.59h0M400.26 305.81h0M406.06 293.72h0M419.95 284.68h0M401.63 287.44h0M421.51 295.32h0M413.67 282.51h0M421.77 281.45h0M415.94 277.59h0M453.71 275.01h0M385.49 279.24h0M403.87 313.1h0M371.76 299.8h0M433.57 274.09h0M407.22 276.31h0M412.66 300.48h0M415.25 289.52h0M414.92 287.26h0M375 284.38h0M403.91 287.38h0M399.8 294.77h0M410.9 313.5h0M420.88 282.53h0M394.16 325h0M402.53 306.65h0M416.01 292.21h0M442.76 275.83h0M409.47 291.89h0M397.62 298.87h0M419.73 288.19h0M430.7 296.35h0M419.48 292.61h0M414.27 288.45h0M409.02 291.4h0M413.42 279.85h0M412.05 289.33h0M423.15 276.27h0M396.11 288.97h0M427.38 283.07h0M431.37 277.51h0M435.21 294.37h0M421.73 297.17h0M436.09 284.3h0M390.93 298.08h0M396.21 285.51h0M408.04 321.97h0M407.15 281.74h0M419.9 298.82h0M425.54 281.9h0M440.16 273.43h0M420.56 300.56h0M419.09 287.28h0M414.28 287.21h0M392.98 291.67h0M414.22 288.03h0M412.33 296.87h0M418.57 281.37h0M408.35 290.18h0M400.46 291.38h0M414.37 308.59h0M434.65 297.63h0M415.46 308.65h0M383.36 293.45h0M389.23 326.03h0M410.23 313.17h0M410.42 270.7h0M407.08 290.16h0M423.97 286.53h0M411.92 274.31h0M412.61 288.55h0M416 308.07h0M419.69 290.2h0M425.49 280.51h0M441.72 308.13h0M404.19 301.45h0M398.8 291.95h0M412.67 291.24h0M385.26 313.13h0M412.88 298.52h0M403.32 297.24h0M409.15 307.33h0M443.4 292.31h0M425.5 281.71h0M431.08 294.66h0M396.44 292.35h0M418.62 320.69h0M407.18 297.98h0M421.34 302.53h0M436.91 282.37h0M377.46 300.53h0M404.34 289.98h0M412.02 284.84h0M398.57 301.73h0M414.13 301.95h0M406.01 287.32h0M447.94 285.15h0M428.54 302.46h0M406 290.88h0M424.19 302.34h0M424.59 287.63h0M437.09 274.04h0M423.65 294.66h0M418.63 301.91h0M399.5 319.91h0M391.16 315.25h0M412.23 291.86h0M390.42 300.86h0M421.09 278.98h0M412.33 290.4h0M407.38 283.09h0M386.58 297.82h0M373.25 283.47h0M430.22 314.05h0M404.71 312.98h0M382.99 307.01h0M398.48 284.35h0M404.75 309.22h0M412.51 288.07h0M428.3 282.16h0M387.72 310.75h0M410.66 304.14h0M426.92 293.1h0M412.58 297.79h0M414.6 311.23h0M450.64 288.89h0M401.06 318.74h0M412.29 310.42h0M419.54 276.22h0M424.5 295.14h0M436.08 288.53h0M412.96 292.3h0M405.43 290.11h0M392.2 321.31h0M434.79 295.72h0M407.56 290.55h0M405.55 309.98h0M410.3 305.64h0M423.37 295.51h0M409.23 284.65h0M386.69 319.45h0M426.54 273.33h0M394.41 325.16h0M371.97 302.92h0M396.44 282.54h0M393.18 312.63h0M383.53 305.34h0M398.81 320.1h0M378.92 300.35h0M400.78 327.6h0M370.95 332.27h0M387.91 300.47h0M375.84 327.4h0M388.93 297.68h0M391.98 292.3h0M371.93 308.21h0M396.58 277.42h0M380.13 284.38h0M390.54 279.41h0M377.28 294.39h0M396.77 308.73h0M373.19 327.19h0M374.97 333.75h0M374.82 299.67h0M373.32 290.4h0M393.44 286.6h0M395.59 293.33h0M399.43 277.44h0M389.9 276.9h0M373.27 333.1h0M372.03 326.35h0M381.91 309.91h0M391.67 291.38h0M372.65 313.52h0M387.3 315.35h0M373.72 300.89h0M381.91 295.24h0M385.77 277.06h0M400.1 335.1h0M394.19 292.8h0M379.41 332.19h0M385.24 316.72h0M339.6 317.85h0M343.35 331.82h0M342.79 363.74h0M347.85 362.14h0M351.79 301.23h0M353.48 349.11h0M355.35 319.85h0M355.91 365.73h0M362.85 310.54h0M363.98 366.4h0M366.6 352.04h0M367.16 365.07h0M366.23 321.18h0M369.6 364.4h0M377.1 365.07h0M382.16 365.07h0M385.91 363.74h0M388.35 365.07h0M389.1 365.73h0M392.48 365.07h0M382.16 351.77h0M383.48 349.11h0M385.91 353.76h0M387.79 346.45h0M423.98 363.07h0M426.23 365.07h0M428.1 365.34h0M430.35 360.41h0M431.85 366.13h0M433.35 366.13h0M452.48 357.75h0M458.48 275.29h0M450.98 273.96h0M456.23 301.89h0M453.98 297.24h0M417.23 252.02h0M406.54 255.34h0M432.79 254.01h0M439.35 260.66h0M377.48 273.96h0" stroke="#000" stroke-width="1.9" stroke-linecap="round" fill="none"/>
<rect x="499.6" y="247.6" width="128.8" height="123.4" fill="none" stroke-width="0.85" stroke="#161616"/>
<line x1="518.6" y1="371" x2="518.6" y2="373.6" stroke-width="0.7" stroke="#161616"/>
<text transform="translate(518.6 381.2) rotate(0.03) scale(1 1.03)" font-size="5.3" text-anchor="middle" fill="#222" stroke="#222" stroke-width="0.2">2</text>
<line x1="537.34" y1="371" x2="537.34" y2="373.6" stroke-width="0.7" stroke="#161616"/>
<text transform="translate(537.34 381.2) rotate(0.03) scale(1 1.03)" font-size="5.3" text-anchor="middle" fill="#222" stroke="#222" stroke-width="0.2">3</text>
<line x1="556.08" y1="371" x2="556.08" y2="373.6" stroke-width="0.7" stroke="#161616"/>
<text transform="translate(556.08 381.2) rotate(0.03) scale(1 1.03)" font-size="5.3" text-anchor="middle" fill="#222" stroke="#222" stroke-width="0.2">4</text>
<line x1="574.82" y1="371" x2="574.82" y2="373.6" stroke-width="0.7" stroke="#161616"/>
<text transform="translate(574.82 381.2) rotate(0.03) scale(1 1.03)" font-size="5.3" text-anchor="middle" fill="#222" stroke="#222" stroke-width="0.2">5</text>
<line x1="593.56" y1="371" x2="593.56" y2="373.6" stroke-width="0.7" stroke="#161616"/>
<text transform="translate(593.56 381.2) rotate(0.03) scale(1 1.03)" font-size="5.3" text-anchor="middle" fill="#222" stroke="#222" stroke-width="0.2">6</text>
<line x1="612.3" y1="371" x2="612.3" y2="373.6" stroke-width="0.7" stroke="#161616"/>
<text transform="translate(612.3 381.2) rotate(0.03) scale(1 1.03)" font-size="5.3" text-anchor="middle" fill="#222" stroke="#222" stroke-width="0.2">7</text>
<line x1="497" y1="371" x2="499.6" y2="371" stroke-width="0.7" stroke="#161616"/>
<text transform="translate(493.6 371) rotate(-89.97) scale(1 1.03)" font-size="5.3" text-anchor="middle" fill="#222" stroke="#222" stroke-width="0.2">2</text>
<line x1="497" y1="343.9" x2="499.6" y2="343.9" stroke-width="0.7" stroke="#161616"/>
<text transform="translate(493.6 343.9) rotate(-89.97) scale(1 1.03)" font-size="5.3" text-anchor="middle" fill="#222" stroke="#222" stroke-width="0.2">4</text>
<line x1="497" y1="316.8" x2="499.6" y2="316.8" stroke-width="0.7" stroke="#161616"/>
<text transform="translate(493.6 316.8) rotate(-89.97) scale(1 1.03)" font-size="5.3" text-anchor="middle" fill="#222" stroke="#222" stroke-width="0.2">6</text>
<line x1="497" y1="289.7" x2="499.6" y2="289.7" stroke-width="0.7" stroke="#161616"/>
<text transform="translate(493.6 289.7) rotate(-89.97) scale(1 1.03)" font-size="5.3" text-anchor="middle" fill="#222" stroke="#222" stroke-width="0.2">8</text>
<line x1="497" y1="262.6" x2="499.6" y2="262.6" stroke-width="0.7" stroke="#161616"/>
<text transform="translate(493.6 262.6) rotate(-89.97) scale(1 1.03)" font-size="5.3" text-anchor="middle" fill="#222" stroke="#222" stroke-width="0.2">10</text>
<text transform="translate(564.5 393.2) rotate(0.03) scale(1 1.03)" font-size="7" text-anchor="middle" fill="#222" stroke="#222" stroke-width="0.15">log2(TYMS TPM)</text>
<text transform="translate(482.5 309.3) rotate(-89.97) scale(1 1.03)" font-size="7" text-anchor="middle" fill="#222" stroke="#222" stroke-width="0.15">log2(RARA TPM)</text>
<text transform="translate(507 256.7) rotate(0.03) scale(1 1.03)" font-size="6.25" fill="#222" stroke="#222" stroke-width="0.15">p−value = 0.64</text>
<text transform="translate(507 263.6) rotate(0.03) scale(1 1.03)" font-size="6.25" fill="#222" stroke="#222" stroke-width="0.15">R = −0.022</text>
<path d="M571.31 352.34h0M562.79 327.38h0M544.42 332.27h0M581.07 343.74h0M569.74 324.61h0M588.58 341.22h0M594.36 329.47h0M577.05 319.17h0M588.83 329.22h0M593.28 326.6h0M599.27 333.46h0M540.17 318.72h0M590.29 327.81h0M575.56 333.22h0M576.68 340.8h0M589.7 331.68h0M556.15 330.1h0M568.35 332.69h0M554.01 328.82h0M588.51 328.69h0M603.61 336.21h0M568.33 332.53h0M548.13 322.69h0M550.61 327.6h0M597.98 339.79h0M571.32 334.21h0M608.16 330.1h0M540.56 322.94h0M594.84 350.05h0M576.45 351.23h0M595.28 319.88h0M528.35 321.14h0M588.56 332.61h0M561.05 329.01h0M558.94 331h0M569.76 336.35h0M585.4 323.74h0M592.06 328.46h0M607.55 343.57h0M576.07 330.75h0M598.47 352.44h0M566.16 335.2h0M578.55 312.35h0M579.39 333.24h0M583.12 323.7h0M571.37 317.49h0M551.09 321.32h0M588.56 323.56h0M605.06 334.56h0M582.88 330.06h0M562.99 339.18h0M559.6 324.9h0M530.27 343.8h0M576.28 320.8h0M572.79 321.19h0M573.59 337.14h0M544.26 330.73h0M608.57 331.6h0M554.48 327.21h0M547.99 342.54h0M596.58 328.75h0M593.68 330.28h0M572.5 330.85h0M568.46 323.04h0M549.63 349.2h0M558.22 324.39h0M564.2 352.87h0M571.02 327.27h0M582.01 333.87h0M544.35 327.76h0M555.61 333.98h0M589.58 335.83h0M539.74 337.76h0M586.66 326.04h0M549.42 331.97h0M580.55 322.9h0M582.67 330.97h0M568.82 328.21h0M589.88 333.8h0M569.27 316.94h0M573.97 339.34h0M587.98 343.4h0M553.63 324.27h0M575.23 325.39h0M589.91 339.11h0M584.63 335.74h0M579 330.16h0M573.19 343.84h0M580.66 332.22h0M585.13 341.72h0M578.69 334.23h0M566.48 334.75h0M569.94 344.48h0M564.21 336.48h0M583.88 333.75h0M602.3 327.07h0M580.93 330.55h0M547.23 329.19h0M599.3 341.35h0M600.43 326.96h0M580.35 336.15h0M575.25 339.3h0M574.5 331.92h0M576.04 343.14h0M592.8 338.17h0M582.51 327.21h0M570.82 310.8h0M577.17 328.69h0M570.01 329.48h0M550.36 326.74h0M567.69 336.88h0M589.53 324.42h0M566.58 341.37h0M535.94 341.15h0M584.34 326.8h0M550.45 331.95h0M595.1 339.06h0M564.08 340.33h0M582.82 348.99h0M572.28 328.27h0M573.75 323.98h0M586.69 336.86h0M555.47 341.68h0M584.24 333.59h0M577.04 340.42h0M597.02 324.76h0M589.35 342.19h0M553.93 323.92h0M572.33 339.24h0M560.07 328.03h0M580.74 330.53h0M570.64 341.38h0M579.66 334.73h0M570.88 327.04h0M607.44 337.89h0M593.42 338.82h0M591.01 326.73h0M575.5 330.32h0M559.87 335.32h0M593.17 325.67h0M618.23 341.19h0M565.86 331.5h0M575.96 336.77h0M566.82 333.25h0M599.36 333.28h0M560.33 329.65h0M562.7 329.7h0M530.97 334.22h0M554.28 323.81h0M590.06 336.26h0M583.83 342.56h0M579 330.1h0M595.26 336.13h0M533.63 325.4h0M554.1 337.1h0M567.9 317.95h0M573.95 322.31h0M576.26 344.55h0M583.63 327.89h0M564.05 345.98h0M582.79 328.35h0M592.91 327.19h0M546.45 344.43h0M590.64 320.54h0M595.29 325.15h0M574.6 323.99h0M604.55 327.76h0M598.87 321.82h0M561.2 322.14h0M560.19 340.33h0M605.79 346.69h0M571.27 324.49h0M582.34 335.72h0M556.97 327.93h0M585.02 333.08h0M556.23 344.83h0M574.7 332.79h0M590.8 335.07h0M592.29 342.88h0M541.85 324.24h0M566.76 339.66h0M572.16 342.92h0M568.32 344.37h0M578.13 337.43h0M573.85 332.37h0M583.4 347.25h0M577.86 334.65h0M552.91 334.62h0M584.5 328.28h0M612.83 335.19h0M577.57 315.62h0M563.52 339.55h0M566.1 337.47h0M574.4 331.12h0M560.45 342.21h0M573.86 342.96h0M559.38 329.34h0M573.07 340.98h0M547.63 340.98h0M546.67 327.73h0M588.98 329.76h0M580.81 336.64h0M577.97 331.85h0M575.76 336.6h0M554.41 329.88h0M582.13 342h0M570.45 332.66h0M584.25 347.04h0M548.17 344.27h0M551.28 341.7h0M590.99 342.37h0M615.37 330.02h0M587.99 332.78h0M591.23 329.09h0M590.1 327.33h0M586.57 329.03h0M595.64 332.19h0M565 318.64h0M565.74 328.91h0M614.77 337.86h0M569.69 338.19h0M557.18 326.76h0M571 331.26h0M542.49 328.18h0M561.24 349.02h0M561.17 346.22h0M605.03 346.87h0M580.27 341.32h0M559.33 343.44h0M597.86 341.89h0M562.82 330.36h0M567.83 326.38h0M560.84 346.32h0M583.47 322.06h0M584.91 339.58h0M597.05 325.54h0M567.7 328.59h0M574.27 331.36h0M587.11 324.81h0M576.53 331.78h0M583.63 339.25h0M581.96 334.05h0M576.17 331.54h0M599.74 328.02h0M575.8 342.56h0M581.91 341.64h0M598.31 338.36h0M563.1 333.64h0M555.84 328.09h0M581.1 338.18h0M564.78 316.56h0M596.85 327.6h0M580.34 319.39h0M567.56 334.61h0M572.33 341.46h0M558.16 316.47h0M577.86 339.95h0M570.39 336.51h0M566.71 332.82h0M547.06 347.78h0M571.1 334.33h0M552.74 333.21h0M564.27 330.59h0M571.03 322.76h0M601.4 326.59h0M575.48 324.98h0M588.88 328.28h0M589.66 335.5h0M589.75 327.71h0M582.76 333.68h0M567.42 327.26h0M565.72 341.44h0M606.76 322.07h0M560.7 320.38h0M536.68 327.09h0M588.04 330.08h0M571.4 325.55h0M584.98 341.89h0M561.46 323.65h0M589.29 341.96h0M547.37 328.45h0M559.78 338.42h0M565.46 330.26h0M537.31 325.52h0M568.35 324.38h0M553.87 339.6h0M584.48 323.71h0M574.24 334.97h0M600.43 322.91h0M580.91 334.26h0M598.9 326.24h0M568.63 319.61h0M596.05 330.27h0M584.14 325.55h0M566.66 342.4h0M597.68 346.05h0M546.9 344.21h0M584.65 323.28h0M563.15 321.03h0M606.16 320.4h0M551.17 321.01h0M618.54 339.85h0M544.89 321.16h0M585.21 332.47h0M574.32 346.8h0M559.5 330.49h0M584.2 324.22h0M592.97 336.15h0M573.9 319.96h0M549.76 327.65h0M559.31 330.31h0M610.26 328.73h0M566.86 338h0M548.87 332.33h0M532.52 332.81h0M577.83 339.91h0M560.5 321.94h0M598.84 314.61h0M597.04 329.42h0M571.3 321.57h0M588.27 330.58h0M609.4 333.47h0M578.75 322.68h0M584.65 331.46h0M569.2 326.14h0M583.53 330.66h0M607.11 332.81h0M607.63 340.54h0M577.9 339.1h0M582.42 326.19h0M586.02 330.16h0M570.52 342.59h0M591.56 331.88h0M597.3 346.53h0M570.72 346.76h0M596.17 338.39h0M555.74 324.57h0M573.73 330h0M573.46 322.51h0M580.7 329.87h0M575.14 323.81h0M596.73 335.13h0M591.71 345h0M560.31 336.71h0M561.4 327.5h0M549.12 345.52h0M578.97 339.62h0M576.37 331.42h0M562.61 335.64h0M591.5 332.12h0M576.62 326.38h0M561.46 342.56h0M568.51 318.18h0M586.8 312.97h0M594.15 324.25h0M565.89 346.32h0M535.09 330.92h0M554.06 342.32h0M585.94 329.64h0M550.69 329.99h0M505.11 348.24h0M508.29 335.77h0M508.86 338.21h0M513.35 323.3h0M517.29 355.01h0M519.54 321.14h0M521.41 320.59h0M546.34 366.94h0M554.21 364.9h0M580.07 358.13h0M582.69 361.51h0M539.21 356.77h0M548.58 355.42h0M551.39 357.45h0M567.7 251.76h0M565.82 280.49h0M603.87 281.57h0M574.45 289.7h0M575.19 295.8h0M580.07 296.48h0M591.31 291.73h0M602.93 293.09h0M572.95 303.93h0M579.5 303.25h0M594.5 303.25h0M600.12 303.25h0M604.8 306.64h0M608.18 307.59h0M572.01 307.31h0M583.25 308.67h0M623.54 320.19h0M617.92 321.54h0M621.67 328.32h0M619.8 334.42h0M620.17 337.8h0M614.17 349.32h0" stroke="#000" stroke-width="1.9" stroke-linecap="round" fill="none"/>
</g>
<g id="panelF">
<text transform="translate(3.9 418.6) rotate(0.03) scale(1 1.03)" font-size="13.5" stroke="#1a1a1a" stroke-width="0.15">F</text>
<text transform="translate(109 429) rotate(0.03) scale(1 1.03)" font-size="9.7" text-anchor="middle" stroke="#1a1a1a" stroke-width="0.15">293T</text>
<clipPath id="bl1"><rect x="48" y="432.7" width="121.6" height="24.9"/></clipPath>
<linearGradient id="bl1g" x1="0" y1="0" x2="1" y2="1"><stop offset="0" stop-color="#ececec"/><stop offset="1" stop-color="#f1f1f1"/></linearGradient>
<rect x="48" y="432.7" width="121.6" height="24.9" fill="url(#bl1g)" stroke="none"/>
<g clip-path="url(#bl1)">
<rect x="53.1" y="443.7" width="25" height="4.6" rx="9" ry="2.3" fill="#000" opacity="1" filter="url(#b1)"/>
<rect x="82.85" y="443.7" width="23.5" height="4.6" rx="8.46" ry="2.3" fill="#000" opacity="1" filter="url(#b1)"/>
<rect x="142" y="443.8" width="20" height="3.4" rx="7.2" ry="1.7" fill="#444" opacity="0.62" filter="url(#b1)"/>
</g>
<rect x="48.6" y="433.3" width="120.4" height="23.7" fill="none" stroke-width="1.2" stroke="#141414"/>
<clipPath id="bl2"><rect x="48" y="461.4" width="121.6" height="24.2"/></clipPath>
<rect x="48" y="461.4" width="121.6" height="24.2" fill="#fbfbfb" stroke="none"/>
<g clip-path="url(#bl2)">
<rect x="86.5" y="473" width="19" height="7" rx="6.84" ry="3.5" fill="#333" opacity="0.5" filter="url(#b2)"/>
<rect x="85.75" y="471.5" width="20.5" height="7.4" rx="7.38" ry="3.7" fill="#000" opacity="1" filter="url(#b1)"/>
<rect x="143.95" y="470.6" width="18.5" height="5.6" rx="6.66" ry="2.8" fill="#3a3a3a" opacity="0.85" filter="url(#b1)"/>
</g>
<rect x="48.6" y="462" width="120.4" height="23" fill="none" stroke-width="1.2" stroke="#141414"/>
<text transform="translate(45.4 449.2) rotate(0.03) scale(1 1.03)" font-size="9.8" text-anchor="end" stroke="#1a1a1a" stroke-width="0.15">HDAC3</text>
<text transform="translate(45.4 476.2) rotate(0.03) scale(1 1.03)" font-size="9.9" text-anchor="end" stroke="#1a1a1a" stroke-width="0.15">Myc</text>
<text transform="translate(54 498.2) rotate(0.03) scale(1 1.03)" font-size="9.8" text-anchor="end" stroke="#1a1a1a" stroke-width="0.15">HA-HDAC3</text>
<text transform="translate(54 510) rotate(0.03) scale(1 1.03)" font-size="9.9" text-anchor="end" stroke="#1a1a1a" stroke-width="0.15">Myc-HNF4A</text>
<text transform="translate(63 497.6) rotate(0.03) scale(1 1.03)" font-size="9" text-anchor="middle" stroke="#1a1a1a" stroke-width="0.15">+</text>
<text transform="translate(95.5 497.6) rotate(0.03) scale(1 1.03)" font-size="9" text-anchor="middle" stroke="#1a1a1a" stroke-width="0.15">-</text>
<text transform="translate(123.4 497.6) rotate(0.03) scale(1 1.03)" font-size="9" text-anchor="middle" stroke="#1a1a1a" stroke-width="0.15">+</text>
<text transform="translate(153.4 497.6) rotate(0.03) scale(1 1.03)" font-size="9" text-anchor="middle" stroke="#1a1a1a" stroke-width="0.15">-</text>
<text transform="translate(63 509.6) rotate(0.03) scale(1 1.03)" font-size="9" text-anchor="middle" stroke="#1a1a1a" stroke-width="0.15">-</text>
<text transform="translate(95.5 509.6) rotate(0.03) scale(1 1.03)" font-size="9" text-anchor="middle" stroke="#1a1a1a" stroke-width="0.15">+</text>
<text transform="translate(123.4 509.6) rotate(0.03) scale(1 1.03)" font-size="9" text-anchor="middle" stroke="#1a1a1a" stroke-width="0.15">-</text>
<text transform="translate(153.4 509.6) rotate(0.03) scale(1 1.03)" font-size="9" text-anchor="middle" stroke="#1a1a1a" stroke-width="0.15">+</text>
<line x1="60.6" y1="511.4" x2="98" y2="511.4" stroke-width="0.7" stroke="#1a1a1a"/>
<line x1="120" y1="511.4" x2="157" y2="511.4" stroke-width="0.7" stroke="#1a1a1a"/>
<text transform="translate(79.5 521.6) rotate(0.03) scale(1 1.03)" font-size="9.6" text-anchor="middle" stroke="#1a1a1a" stroke-width="0.15">Input</text>
<text transform="translate(138.7 521.6) rotate(0.03) scale(1 1.03)" font-size="9.6" text-anchor="middle" stroke="#1a1a1a" stroke-width="0.15">IP: Myc</text>
</g>
<g id="panelG">
<text transform="translate(177.4 418.6) rotate(0.03) scale(1 1.03)" font-size="13.5" stroke="#1a1a1a" stroke-width="0.15">G</text>
<text transform="translate(261.5 430) rotate(0.03) scale(1 1.03)" font-size="9.7" text-anchor="middle" stroke="#1a1a1a" stroke-width="0.15">MKN-45</text>
<text transform="translate(261.5 497) rotate(0.03) scale(1 1.03)" font-size="9.7" text-anchor="middle" stroke="#1a1a1a" stroke-width="0.15">HGC-27</text>
<clipPath id="bl3"><rect x="214.6" y="433" width="91.8" height="25"/></clipPath>
<rect x="214.6" y="433" width="91.8" height="25" fill="#fdfdfd" stroke="none"/>
<g clip-path="url(#bl3)">
<rect x="220.3" y="443.7" width="22" height="5.4" rx="7.92" ry="2.7" fill="#000" opacity="1" filter="url(#b1)"/>
<rect x="278.2" y="443.2" width="21" height="4.4" rx="7.56" ry="2.2" fill="#111" opacity="0.95" filter="url(#b1)" transform="rotate(-3 288.7 445.4)"/>
</g>
<rect x="215.2" y="433.6" width="90.6" height="23.8" fill="none" stroke-width="1.2" stroke="#141414"/>
<clipPath id="bl4"><rect x="214.6" y="460.4" width="91.8" height="25.2"/></clipPath>
<linearGradient id="bl4g" x1="0" y1="0" x2="1" y2="1"><stop offset="0" stop-color="#dedede"/><stop offset="1" stop-color="#d2d2d2"/></linearGradient>
<rect x="214.6" y="460.4" width="91.8" height="25.2" fill="url(#bl4g)" stroke="none"/>
<g clip-path="url(#bl4)">
<rect x="221" y="467" width="22" height="5" rx="7.92" ry="2.5" fill="#666" opacity="0.35" filter="url(#b2)"/>
<rect x="220.3" y="470.7" width="24" height="4.2" rx="8.64" ry="2.1" fill="#000" opacity="1" filter="url(#b1)"/>
<rect x="277" y="470.5" width="20" height="3" rx="7.2" ry="1.5" fill="#333" opacity="0.75" filter="url(#b1)" transform="rotate(-4 287 472)"/>
<rect x="247" y="464" width="30" height="12" rx="10.8" ry="6" fill="#fff" opacity="0.25" filter="url(#b3)"/>
</g>
<rect x="215.2" y="461" width="90.6" height="24" fill="none" stroke-width="1.2" stroke="#141414"/>
<clipPath id="bl5"><rect x="214.6" y="501" width="91.8" height="24.6"/></clipPath>
<rect x="214.6" y="501" width="91.8" height="24.6" fill="#fdfdfd" stroke="none"/>
<g clip-path="url(#bl5)">
<rect x="221.2" y="510.7" width="24" height="5.4" rx="8.64" ry="2.7" fill="#000" opacity="1" filter="url(#b1)"/>
<rect x="281.25" y="511.6" width="20.5" height="4.8" rx="7.38" ry="2.4" fill="#0c0c0c" opacity="1" filter="url(#b1)"/>
</g>
<rect x="215.2" y="501.6" width="90.6" height="23.4" fill="none" stroke-width="1.2" stroke="#141414"/>
<clipPath id="bl6"><rect x="214.6" y="528" width="91.8" height="25"/></clipPath>
<linearGradient id="bl6g" x1="0" y1="0" x2="1" y2="1"><stop offset="0" stop-color="#dcdcdc"/><stop offset="1" stop-color="#d4d4d4"/></linearGradient>
<rect x="214.6" y="528" width="91.8" height="25" fill="url(#bl6g)" stroke="none"/>
<g clip-path="url(#bl6)">
<rect x="221.5" y="534" width="22" height="5" rx="7.92" ry="2.5" fill="#666" opacity="0.3" filter="url(#b2)"/>
<rect x="220.5" y="537.6" width="24" height="4.8" rx="8.64" ry="2.4" fill="#000" opacity="1" filter="url(#b1)"/>
<rect x="280.5" y="538.2" width="20" height="3.6" rx="7.2" ry="1.8" fill="#1a1a1a" opacity="0.9" filter="url(#b1)"/>
<rect x="282" y="533" width="16" height="4" rx="5.76" ry="2" fill="#777" opacity="0.25" filter="url(#b2)"/>
</g>
<rect x="215.2" y="528.6" width="90.6" height="23.8" fill="none" stroke-width="1.2" stroke="#141414"/>
<text transform="translate(211.2 449.6) rotate(0.03) scale(1 1.03)" font-size="9.6" text-anchor="end" stroke="#1a1a1a" stroke-width="0.15">HNF4A</text>
<text transform="translate(211.2 475.6) rotate(0.03) scale(1 1.03)" font-size="9.6" text-anchor="end" stroke="#1a1a1a" stroke-width="0.15">HDAC3</text>
<text transform="translate(211.2 517) rotate(0.03) scale(1 1.03)" font-size="9.6" text-anchor="end" stroke="#1a1a1a" stroke-width="0.15">HNF4A</text>
<text transform="translate(211.2 543.4) rotate(0.03) scale(1 1.03)" font-size="9.6" text-anchor="end" stroke="#1a1a1a" stroke-width="0.15">HDAC3</text>
<text transform="translate(235.9 560.4) rotate(-46.97) scale(1 1.03)" font-size="9.4" text-anchor="end" stroke="#1a1a1a" stroke-width="0.15">Input</text>
<text transform="translate(263.6 560.4) rotate(-46.97) scale(1 1.03)" font-size="9.4" text-anchor="end" stroke="#1a1a1a" stroke-width="0.15">IgG</text>
<text transform="translate(294.6 560.4) rotate(-46.97) scale(1 1.03)" font-size="9.4" text-anchor="end" stroke="#1a1a1a" stroke-width="0.15">HDAC3</text>
</g>
<g id="panelH">
<text transform="translate(315.2 418.6) rotate(0.03) scale(1 1.03)" font-size="13.5" stroke="#1a1a1a" stroke-width="0.15">H</text>
<text transform="translate(385 437.4) rotate(0.03) scale(1 1.03)" font-size="9.7" text-anchor="middle" stroke="#1a1a1a" stroke-width="0.15">MKN-45</text>
<text transform="translate(450.2 437.4) rotate(0.03) scale(1 1.03)" font-size="9.7" text-anchor="middle" stroke="#1a1a1a" stroke-width="0.15">HGC-27</text>
<clipPath id="bl7"><rect x="354" y="440" width="61.8" height="24.6"/></clipPath>
<linearGradient id="bl7g" x1="0" y1="0" x2="1" y2="1"><stop offset="0" stop-color="#d0d0d0"/><stop offset="1" stop-color="#c6c6c6"/></linearGradient>
<rect x="354" y="440" width="61.8" height="24.6" fill="url(#bl7g)" stroke="none"/>
<rect x="354" y="440" width="61.8" height="24.6" fill="url(#vg)" opacity="0.22"/>
<g clip-path="url(#bl7)">
<rect x="360" y="450" width="20" height="4" rx="7.2" ry="2" fill="#0a0a0a" opacity="0.88" filter="url(#b4)"/>
<rect x="390.5" y="450.3" width="17" height="3.4" rx="6.12" ry="1.7" fill="#666" opacity="0.3" filter="url(#b4)"/>
</g>
<rect x="354.6" y="440.6" width="60.6" height="23.4" fill="none" stroke-width="1.2" stroke="#141414"/>
<clipPath id="bl8"><rect x="419.4" y="440" width="61.8" height="24.6"/></clipPath>
<linearGradient id="bl8g" x1="0" y1="0" x2="1" y2="1"><stop offset="0" stop-color="#cecece"/><stop offset="1" stop-color="#c8c8c8"/></linearGradient>
<rect x="419.4" y="440" width="61.8" height="24.6" fill="url(#bl8g)" stroke="none"/>
<rect x="419.4" y="440" width="61.8" height="24.6" fill="url(#vg)" opacity="0.24"/>
<g clip-path="url(#bl8)">
<rect x="426.7" y="450.2" width="22" height="4.6" rx="7.92" ry="2.3" fill="#161616" opacity="0.84" filter="url(#b4)"/>
<rect x="457.8" y="450.7" width="17" height="3.6" rx="6.12" ry="1.8" fill="#555" opacity="0.4" filter="url(#b4)"/>
</g>
<rect x="420" y="440.6" width="60.6" height="23.4" fill="none" stroke-width="1.2" stroke="#141414"/>
<clipPath id="bl9"><rect x="354" y="467.4" width="61.8" height="24.6"/></clipPath>
<linearGradient id="bl9g" x1="0" y1="0" x2="1" y2="1"><stop offset="0" stop-color="#dadada"/><stop offset="1" stop-color="#c8c8c8"/></linearGradient>
<rect x="354" y="467.4" width="61.8" height="24.6" fill="url(#bl9g)" stroke="none"/>
<rect x="354" y="467.4" width="61.8" height="24.6" fill="url(#vg)" opacity="0.2"/>
<g clip-path="url(#bl9)">
<rect x="360" y="477.7" width="21" height="4" rx="7.56" ry="2" fill="#000" opacity="1" filter="url(#b1)"/>
<rect x="389" y="477.4" width="20" height="3.2" rx="7.2" ry="1.6" fill="#2a2a2a" opacity="0.75" filter="url(#b1)"/>
</g>
<rect x="354.6" y="468" width="60.6" height="23.4" fill="none" stroke-width="1.2" stroke="#141414"/>
<clipPath id="bl10"><rect x="419.4" y="467.4" width="61.8" height="24.6"/></clipPath>
<linearGradient id="bl10g" x1="0" y1="0" x2="1" y2="1"><stop offset="0" stop-color="#cccccc"/><stop offset="1" stop-color="#c6c6c6"/></linearGradient>
<rect x="419.4" y="467.4" width="61.8" height="24.6" fill="url(#bl10g)" stroke="none"/>
<rect x="419.4" y="467.4" width="61.8" height="24.6" fill="url(#vg)" opacity="0.24"/>
<g clip-path="url(#bl10)">
<rect x="425.55" y="477.5" width="22.5" height="4.2" rx="8.1" ry="2.1" fill="#000" opacity="1" filter="url(#b1)"/>
<rect x="454.5" y="477.3" width="19" height="2.8" rx="6.84" ry="1.4" fill="#3a3a3a" opacity="0.6" filter="url(#b1)"/>
</g>
<rect x="420" y="468" width="60.6" height="23.4" fill="none" stroke-width="1.2" stroke="#141414"/>
<clipPath id="bl11"><rect x="354" y="495" width="61.8" height="24.6"/></clipPath>
<linearGradient id="bl11g" x1="0" y1="0" x2="1" y2="1"><stop offset="0" stop-color="#ececec"/><stop offset="1" stop-color="#e0e0e0"/></linearGradient>
<rect x="354" y="495" width="61.8" height="24.6" fill="url(#bl11g)" stroke="none"/>
<rect x="354" y="495" width="61.8" height="24.6" fill="url(#vg)" opacity="0.2"/>
<g clip-path="url(#bl11)">
<rect x="358.8" y="504.6" width="26.4" height="5.6" rx="9.5" ry="2.8" fill="#000" opacity="1" filter="url(#b1)"/>
<rect x="385.2" y="505" width="25.6" height="5.2" rx="9.22" ry="2.6" fill="#000" opacity="1" filter="url(#b1)"/>
</g>
<rect x="354.6" y="495.6" width="60.6" height="23.4" fill="none" stroke-width="1.2" stroke="#141414"/>
<clipPath id="bl12"><rect x="419.4" y="495" width="61.8" height="24.6"/></clipPath>
<rect x="419.4" y="495" width="61.8" height="24.6" fill="#fafafa" stroke="none"/>
<rect x="419.4" y="495" width="61.8" height="24.6" fill="url(#vg)" opacity="0.1"/>
<g clip-path="url(#bl12)">
<rect x="425" y="503.7" width="23.6" height="5.6" rx="8.5" ry="2.8" fill="#000" opacity="1" filter="url(#b1)"/>
<rect x="452.6" y="504.1" width="23.6" height="5.2" rx="8.5" ry="2.6" fill="#000" opacity="1" filter="url(#b1)"/>
</g>
<rect x="420" y="495.6" width="60.6" height="23.4" fill="none" stroke-width="1.2" stroke="#141414"/>
<text transform="translate(350.6 455.2) rotate(0.03) scale(1 1.03)" font-size="9.8" text-anchor="end" stroke="#1a1a1a" stroke-width="0.15">HNF4A</text>
<text transform="translate(350.8 483.8) rotate(0.03) scale(1 1.03)" font-size="9.6" text-anchor="end" stroke="#1a1a1a" stroke-width="0.15">TYMS</text>
<text transform="translate(350.8 510.6) rotate(0.03) scale(1 1.03)" font-size="9.6" text-anchor="end" stroke="#1a1a1a" stroke-width="0.15">β-actin</text>
<text transform="translate(376.6 526.6) rotate(-46.97) scale(1 1.03)" font-size="9.7" text-anchor="end" stroke="#1a1a1a" stroke-width="0.15">shNC</text>
<text transform="translate(403.6 526.6) rotate(-46.97) scale(1 1.03)" font-size="9.7" text-anchor="end" stroke="#1a1a1a" stroke-width="0.15">shHNF4A</text>
<text transform="translate(439.6 526.6) rotate(-46.97) scale(1 1.03)" font-size="9.7" text-anchor="end" stroke="#1a1a1a" stroke-width="0.15">shNC</text>
<text transform="translate(469.6 526.6) rotate(-46.97) scale(1 1.03)" font-size="9.7" text-anchor="end" stroke="#1a1a1a" stroke-width="0.15">shHNF4A</text>
<line x1="518.1" y1="443.75" x2="518.1" y2="545.45" stroke-width="0.7" stroke="#1a1a1a"/>
<line x1="517.75" y1="545.1" x2="669.8" y2="545.1" stroke-width="0.7" stroke="#1a1a1a"/>
<line x1="514.6" y1="545.1" x2="518.1" y2="545.1" stroke-width="0.7" stroke="#1a1a1a"/>
<text transform="translate(514.1 547.58) rotate(0.03) scale(1 1.03)" font-size="8" text-anchor="end" stroke="#1a1a1a" stroke-width="0.15">0.0</text>
<line x1="514.6" y1="511.43" x2="518.1" y2="511.43" stroke-width="0.7" stroke="#1a1a1a"/>
<text transform="translate(514.1 513.91) rotate(0.03) scale(1 1.03)" font-size="8" text-anchor="end" stroke="#1a1a1a" stroke-width="0.15">0.2</text>
<line x1="514.6" y1="477.77" x2="518.1" y2="477.77" stroke-width="0.7" stroke="#1a1a1a"/>
<text transform="translate(514.1 480.25) rotate(0.03) scale(1 1.03)" font-size="8" text-anchor="end" stroke="#1a1a1a" stroke-width="0.15">0.4</text>
<line x1="514.6" y1="444.1" x2="518.1" y2="444.1" stroke-width="0.7" stroke="#1a1a1a"/>
<text transform="translate(514.1 446.58) rotate(0.03) scale(1 1.03)" font-size="8" text-anchor="end" stroke="#1a1a1a" stroke-width="0.15">0.6</text>
<text transform="translate(495.2 493.8) rotate(-89.97) scale(1 1.03)" font-size="9.75" text-anchor="middle" stroke="#1a1a1a" stroke-width="0.15">Relative protein levels</text>
<text transform="translate(556 435.2) rotate(0.03) scale(1 1.03)" font-size="9.6" text-anchor="middle" stroke="#1a1a1a" stroke-width="0.15">MKN-45</text>
<text transform="translate(631.8 435.2) rotate(0.03) scale(1 1.03)" font-size="9.6" text-anchor="middle" stroke="#1a1a1a" stroke-width="0.15">HGC-27</text>
<line x1="530.2" y1="438.2" x2="581.8" y2="438.2" stroke-width="0.8" stroke="#1a1a1a"/>
<line x1="606.5" y1="438.2" x2="657.3" y2="438.2" stroke-width="0.8" stroke="#1a1a1a"/>
<rect x="526.65" y="441.6" width="10.5" height="5.6" fill="#90f2c3" stroke-width="0.7" stroke="#1a1a1a"/>
<text transform="translate(543.5 447.09) rotate(0.03) scale(1 1.03)" font-size="8.3" stroke="#1a1a1a" stroke-width="0.15">shNC</text>
<rect x="526.65" y="453.2" width="10.5" height="5.6" fill="#5673ff" stroke-width="0.7" stroke="#1a1a1a"/>
<text transform="translate(543.5 458.69) rotate(0.03) scale(1 1.03)" font-size="8.3" stroke="#1a1a1a" stroke-width="0.15">shHNF4A</text>
<line x1="529.9" y1="470.2" x2="529.9" y2="481.5" stroke-width="0.7" stroke="#1a1a1a"/>
<line x1="526.7" y1="470.2" x2="533.1" y2="470.2" stroke-width="0.7" stroke="#1a1a1a"/>
<rect x="525.35" y="481.85" width="9.1" height="63.25" fill="#90f2c3" stroke-width="0.7" stroke="#1a1a1a"/>
<line x1="544.3" y1="521.2" x2="544.3" y2="532.3" stroke-width="0.7" stroke="#1a1a1a"/>
<line x1="541.1" y1="521.2" x2="547.5" y2="521.2" stroke-width="0.7" stroke="#1a1a1a"/>
<rect x="539.75" y="532.65" width="9.1" height="12.45" fill="#5673ff" stroke-width="0.7" stroke="#1a1a1a"/>
<text transform="translate(544.3 520.15) rotate(0.03) scale(1 1.03)" font-size="8.1" text-anchor="middle" stroke="#1a1a1a" stroke-width="0.18">**</text>
<line x1="567.9" y1="465.5" x2="567.9" y2="479.6" stroke-width="0.7" stroke="#1a1a1a"/>
<line x1="564.7" y1="465.5" x2="571.1" y2="465.5" stroke-width="0.7" stroke="#1a1a1a"/>
<rect x="563.35" y="479.95" width="9.1" height="65.15" fill="#90f2c3" stroke-width="0.7" stroke="#1a1a1a"/>
<line x1="581.9" y1="503.5" x2="581.9" y2="511" stroke-width="0.7" stroke="#1a1a1a"/>
<line x1="578.7" y1="503.5" x2="585.1" y2="503.5" stroke-width="0.7" stroke="#1a1a1a"/>
<rect x="577.35" y="511.35" width="9.1" height="33.75" fill="#5673ff" stroke-width="0.7" stroke="#1a1a1a"/>
<text transform="translate(581.9 502.75) rotate(0.03) scale(1 1.03)" font-size="8.1" text-anchor="middle" stroke="#1a1a1a" stroke-width="0.18">*</text>
<line x1="605.4" y1="452.1" x2="605.4" y2="464.1" stroke-width="0.7" stroke="#1a1a1a"/>
<line x1="602.2" y1="452.1" x2="608.6" y2="452.1" stroke-width="0.7" stroke="#1a1a1a"/>
<rect x="600.75" y="464.45" width="9.3" height="80.65" fill="#90f2c3" stroke-width="0.7" stroke="#1a1a1a"/>
<line x1="619.7" y1="514.3" x2="619.7" y2="524.3" stroke-width="0.7" stroke="#1a1a1a"/>
<line x1="616.5" y1="514.3" x2="622.9" y2="514.3" stroke-width="0.7" stroke="#1a1a1a"/>
<rect x="615.15" y="524.65" width="9.1" height="20.45" fill="#5673ff" stroke-width="0.7" stroke="#1a1a1a"/>
<text transform="translate(619.7 513.35) rotate(0.03) scale(1 1.03)" font-size="8.1" text-anchor="middle" stroke="#1a1a1a" stroke-width="0.18">**</text>
<line x1="643.3" y1="468.5" x2="643.3" y2="480.4" stroke-width="0.7" stroke="#1a1a1a"/>
<line x1="640.1" y1="468.5" x2="646.5" y2="468.5" stroke-width="0.7" stroke="#1a1a1a"/>
<rect x="638.75" y="480.75" width="9.1" height="64.35" fill="#90f2c3" stroke-width="0.7" stroke="#1a1a1a"/>
<line x1="657.5" y1="519" x2="657.5" y2="528.4" stroke-width="0.7" stroke="#1a1a1a"/>
<line x1="654.3" y1="519" x2="660.7" y2="519" stroke-width="0.7" stroke="#1a1a1a"/>
<rect x="652.95" y="528.75" width="9.1" height="16.35" fill="#5673ff" stroke-width="0.7" stroke="#1a1a1a"/>
<text transform="translate(657.5 518.35) rotate(0.03) scale(1 1.03)" font-size="8.1" text-anchor="middle" stroke="#1a1a1a" stroke-width="0.18">**</text>
<line x1="537.2" y1="545.1" x2="537.2" y2="548.1" stroke-width="0.7" stroke="#1a1a1a"/>
<text transform="translate(537.2 559.4) rotate(0.03) scale(1 1.03)" font-size="9.4" text-anchor="middle" stroke="#1a1a1a" stroke-width="0.15">HNF4A</text>
<line x1="574.9" y1="545.1" x2="574.9" y2="548.1" stroke-width="0.7" stroke="#1a1a1a"/>
<text transform="translate(574.9 559.4) rotate(0.03) scale(1 1.03)" font-size="9.4" text-anchor="middle" stroke="#1a1a1a" stroke-width="0.15">TYMS</text>
<line x1="612.6" y1="545.1" x2="612.6" y2="548.1" stroke-width="0.7" stroke="#1a1a1a"/>
<text transform="translate(612.6 559.4) rotate(0.03) scale(1 1.03)" font-size="9.4" text-anchor="middle" stroke="#1a1a1a" stroke-width="0.15">HNF4A</text>
<line x1="650.3" y1="545.1" x2="650.3" y2="548.1" stroke-width="0.7" stroke="#1a1a1a"/>
<text transform="translate(650.3 559.4) rotate(0.03) scale(1 1.03)" font-size="9.4" text-anchor="middle" stroke="#1a1a1a" stroke-width="0.15">TYMS</text>
</g>
<g id="panelI">
<text transform="translate(4 596.6) rotate(0.03) scale(1 1.03)" font-size="13.5" stroke="#1a1a1a" stroke-width="0.15">I</text>
<rect x="44.35" y="545" width="10.7" height="5.6" fill="#90f2c3" stroke-width="0.7" stroke="#1a1a1a"/>
<text transform="translate(62 550.49) rotate(0.03) scale(1 1.03)" font-size="8.3" stroke="#1a1a1a" stroke-width="0.15">Control</text>
<rect x="44.35" y="556.5" width="10.7" height="5.6" fill="#5673ff" stroke-width="0.7" stroke="#1a1a1a"/>
<text transform="translate(62 561.99) rotate(0.03) scale(1 1.03)" font-size="8.3" stroke="#1a1a1a" stroke-width="0.15">HNF4A</text>
<rect x="44.35" y="567.9" width="10.7" height="5.6" fill="#1a206f" stroke-width="0.7" stroke="#1a1a1a"/>
<text transform="translate(62 573.39) rotate(0.03) scale(1 1.03)" font-size="8.3" stroke="#1a1a1a" stroke-width="0.15">HDAC3</text>
<rect x="44.35" y="579.4" width="10.7" height="5.6" fill="#e79b2f" stroke-width="0.7" stroke="#1a1a1a"/>
<text transform="translate(62 584.89) rotate(0.03) scale(1 1.03)" font-size="8.3" stroke="#1a1a1a" stroke-width="0.15">HNF4A+HDAC3</text>
<line x1="40.6" y1="599.95" x2="40.6" y2="701.55" stroke-width="0.7" stroke="#1a1a1a"/>
<line x1="40.25" y1="701.2" x2="191.4" y2="701.2" stroke-width="0.7" stroke="#1a1a1a"/>
<line x1="37.3" y1="701.2" x2="40.6" y2="701.2" stroke-width="0.7" stroke="#1a1a1a"/>
<text transform="translate(36.8 703.68) rotate(0.03) scale(1 1.03)" font-size="8" text-anchor="end" stroke="#1a1a1a" stroke-width="0.15">0</text>
<line x1="37.3" y1="681.02" x2="40.6" y2="681.02" stroke-width="0.7" stroke="#1a1a1a"/>
<text transform="translate(36.8 683.5) rotate(0.03) scale(1 1.03)" font-size="8" text-anchor="end" stroke="#1a1a1a" stroke-width="0.15">20</text>
<line x1="37.3" y1="660.84" x2="40.6" y2="660.84" stroke-width="0.7" stroke="#1a1a1a"/>
<text transform="translate(36.8 663.32) rotate(0.03) scale(1 1.03)" font-size="8" text-anchor="end" stroke="#1a1a1a" stroke-width="0.15">40</text>
<line x1="37.3" y1="640.66" x2="40.6" y2="640.66" stroke-width="0.7" stroke="#1a1a1a"/>
<text transform="translate(36.8 643.14) rotate(0.03) scale(1 1.03)" font-size="8" text-anchor="end" stroke="#1a1a1a" stroke-width="0.15">60</text>
<line x1="37.3" y1="620.48" x2="40.6" y2="620.48" stroke-width="0.7" stroke="#1a1a1a"/>
<text transform="translate(36.8 622.96) rotate(0.03) scale(1 1.03)" font-size="8" text-anchor="end" stroke="#1a1a1a" stroke-width="0.15">80</text>
<line x1="37.3" y1="600.3" x2="40.6" y2="600.3" stroke-width="0.7" stroke="#1a1a1a"/>
<text transform="translate(36.8 602.78) rotate(0.03) scale(1 1.03)" font-size="8" text-anchor="end" stroke="#1a1a1a" stroke-width="0.15">100</text>
<text transform="translate(7.9 649.4) rotate(-89.97) scale(1 1.03)" font-size="9.4" text-anchor="middle" stroke="#1a1a1a" stroke-width="0.15">Relative luciferase</text>
<text transform="translate(19.7 649.4) rotate(-89.97) scale(1 1.03)" font-size="9.4" text-anchor="middle" stroke="#1a1a1a" stroke-width="0.15">activity</text>
<rect x="48" y="700.1" width="11" height="1.1" fill="#3f7d63" stroke="none"/>
<rect x="123" y="700.1" width="11.6" height="1.1" fill="#3f7d63" stroke="none"/>
<line x1="69.7" y1="640.4" x2="69.7" y2="645.6" stroke-width="0.7" stroke="#1a1a1a"/>
<line x1="66.9" y1="640.4" x2="72.5" y2="640.4" stroke-width="0.7" stroke="#1a1a1a"/>
<rect x="64.35" y="645.95" width="10.7" height="55.25" fill="#5673ff" stroke-width="0.7" stroke="#1a1a1a"/>
<line x1="85.8" y1="650.4" x2="85.8" y2="655.2" stroke-width="0.7" stroke="#1a1a1a"/>
<line x1="83" y1="650.4" x2="88.6" y2="650.4" stroke-width="0.7" stroke="#1a1a1a"/>
<rect x="80.55" y="655.55" width="10.5" height="45.65" fill="#1a206f" stroke-width="0.7" stroke="#1a1a1a"/>
<line x1="102.2" y1="610" x2="102.2" y2="616" stroke-width="0.7" stroke="#1a1a1a"/>
<line x1="99.4" y1="610" x2="105" y2="610" stroke-width="0.7" stroke="#1a1a1a"/>
<rect x="96.95" y="616.35" width="10.5" height="84.85" fill="#e79b2f" stroke-width="0.7" stroke="#1a1a1a"/>
<line x1="145.2" y1="636.6" x2="145.2" y2="638.6" stroke-width="0.7" stroke="#1a1a1a"/>
<line x1="142.4" y1="636.6" x2="148" y2="636.6" stroke-width="0.7" stroke="#1a1a1a"/>
<rect x="139.75" y="638.95" width="10.9" height="62.25" fill="#5673ff" stroke-width="0.7" stroke="#1a1a1a"/>
<line x1="161.2" y1="646.6" x2="161.2" y2="649.2" stroke-width="0.7" stroke="#1a1a1a"/>
<line x1="158.4" y1="646.6" x2="164" y2="646.6" stroke-width="0.7" stroke="#1a1a1a"/>
<rect x="155.75" y="649.55" width="10.9" height="51.65" fill="#1a206f" stroke-width="0.7" stroke="#1a1a1a"/>
<line x1="177.1" y1="608.2" x2="177.1" y2="613.4" stroke-width="0.7" stroke="#1a1a1a"/>
<line x1="174.3" y1="608.2" x2="179.9" y2="608.2" stroke-width="0.7" stroke="#1a1a1a"/>
<rect x="171.75" y="613.75" width="10.7" height="87.45" fill="#e79b2f" stroke-width="0.7" stroke="#1a1a1a"/>
<line x1="54" y1="630" x2="69.6" y2="630" stroke-width="0.8" stroke="#1a1a1a"/>
<text transform="translate(61.8 630.65) rotate(0.03) scale(1 1.03)" font-size="8.1" text-anchor="middle" stroke="#1a1a1a" stroke-width="0.18">***</text>
<line x1="54" y1="621.4" x2="86" y2="621.4" stroke-width="0.8" stroke="#1a1a1a"/>
<text transform="translate(70 622.05) rotate(0.03) scale(1 1.03)" font-size="8.1" text-anchor="middle" stroke="#1a1a1a" stroke-width="0.18">***</text>
<line x1="69.6" y1="598.6" x2="102" y2="598.6" stroke-width="0.8" stroke="#1a1a1a"/>
<text transform="translate(85.8 599.25) rotate(0.03) scale(1 1.03)" font-size="8.1" text-anchor="middle" stroke="#1a1a1a" stroke-width="0.18">***</text>
<line x1="86" y1="607.2" x2="102" y2="607.2" stroke-width="0.8" stroke="#1a1a1a"/>
<text transform="translate(94 607.85) rotate(0.03) scale(1 1.03)" font-size="8.1" text-anchor="middle" stroke="#1a1a1a" stroke-width="0.18">***</text>
<line x1="129" y1="630.4" x2="145" y2="630.4" stroke-width="0.8" stroke="#1a1a1a"/>
<text transform="translate(137 631.05) rotate(0.03) scale(1 1.03)" font-size="8.1" text-anchor="middle" stroke="#1a1a1a" stroke-width="0.18">***</text>
<line x1="129" y1="622.2" x2="161" y2="622.2" stroke-width="0.8" stroke="#1a1a1a"/>
<text transform="translate(145 622.85) rotate(0.03) scale(1 1.03)" font-size="8.1" text-anchor="middle" stroke="#1a1a1a" stroke-width="0.18">***</text>
<line x1="145" y1="593.2" x2="177" y2="593.2" stroke-width="0.8" stroke="#1a1a1a"/>
<text transform="translate(161 593.85) rotate(0.03) scale(1 1.03)" font-size="8.1" text-anchor="middle" stroke="#1a1a1a" stroke-width="0.18">***</text>
<line x1="161" y1="603.6" x2="177" y2="603.6" stroke-width="0.8" stroke="#1a1a1a"/>
<text transform="translate(169 604.25) rotate(0.03) scale(1 1.03)" font-size="8.1" text-anchor="middle" stroke="#1a1a1a" stroke-width="0.18">***</text>
<line x1="77.8" y1="701.2" x2="77.8" y2="704.2" stroke-width="0.7" stroke="#1a1a1a"/>
<line x1="152.6" y1="701.2" x2="152.6" y2="704.2" stroke-width="0.7" stroke="#1a1a1a"/>
<text transform="translate(77.8 715) rotate(0.03) scale(1 1.03)" font-size="9.6" text-anchor="middle" stroke="#1a1a1a" stroke-width="0.15">MKN-45</text>
<text transform="translate(153.3 715) rotate(0.03) scale(1 1.03)" font-size="9.6" text-anchor="middle" stroke="#1a1a1a" stroke-width="0.15">HGC-27</text>
</g>
<g id="panelJ">
<text transform="translate(216.2 596.6) rotate(0.03) scale(1 1.03)" font-size="13.5" stroke="#1a1a1a" stroke-width="0.15">J</text>
<line x1="254.5" y1="600.05" x2="254.5" y2="701.55" stroke-width="0.7" stroke="#1a1a1a"/>
<line x1="254.15" y1="701.2" x2="405.7" y2="701.2" stroke-width="0.7" stroke="#1a1a1a"/>
<line x1="250.9" y1="701.2" x2="254.5" y2="701.2" stroke-width="0.7" stroke="#1a1a1a"/>
<text transform="translate(250.4 703.68) rotate(0.03) scale(1 1.03)" font-size="8" text-anchor="end" stroke="#1a1a1a" stroke-width="0.15">0</text>
<line x1="250.9" y1="676" x2="254.5" y2="676" stroke-width="0.7" stroke="#1a1a1a"/>
<text transform="translate(250.4 678.48) rotate(0.03) scale(1 1.03)" font-size="8" text-anchor="end" stroke="#1a1a1a" stroke-width="0.15">10</text>
<line x1="250.9" y1="650.8" x2="254.5" y2="650.8" stroke-width="0.7" stroke="#1a1a1a"/>
<text transform="translate(250.4 653.28) rotate(0.03) scale(1 1.03)" font-size="8" text-anchor="end" stroke="#1a1a1a" stroke-width="0.15">20</text>
<line x1="250.9" y1="625.6" x2="254.5" y2="625.6" stroke-width="0.7" stroke="#1a1a1a"/>
<text transform="translate(250.4 628.08) rotate(0.03) scale(1 1.03)" font-size="8" text-anchor="end" stroke="#1a1a1a" stroke-width="0.15">30</text>
<line x1="250.9" y1="600.4" x2="254.5" y2="600.4" stroke-width="0.7" stroke="#1a1a1a"/>
<text transform="translate(250.4 602.88) rotate(0.03) scale(1 1.03)" font-size="8" text-anchor="end" stroke="#1a1a1a" stroke-width="0.15">40</text>
<text transform="translate(230 651) rotate(-89.97) scale(1 1.03)" font-size="9.6" text-anchor="middle" stroke="#1a1a1a" stroke-width="0.15">Relative enrichment</text>
<rect x="259.95" y="593.6" width="10.7" height="5.6" fill="#90f2c3" stroke-width="0.7" stroke="#1a1a1a"/>
<text transform="translate(276.4 599.09) rotate(0.03) scale(1 1.03)" font-size="8.3" stroke="#1a1a1a" stroke-width="0.15">anti-IgG</text>
<rect x="259.95" y="605.4" width="10.7" height="5.6" fill="#5673ff" stroke-width="0.7" stroke="#1a1a1a"/>
<text transform="translate(276.4 610.89) rotate(0.03) scale(1 1.03)" font-size="8.3" stroke="#1a1a1a" stroke-width="0.15">anti-HNF4A</text>
<line x1="277.6" y1="698" x2="277.6" y2="698.6" stroke-width="0.7" stroke="#1a1a1a"/>
<line x1="272.61" y1="698" x2="282.59" y2="698" stroke-width="0.7" stroke="#1a1a1a"/>
<rect x="268.35" y="698.95" width="18.5" height="2.25" fill="#90f2c3" stroke-width="0.7" stroke="#1a1a1a"/>
<line x1="305.8" y1="644.8" x2="305.8" y2="651.5" stroke-width="0.7" stroke="#1a1a1a"/>
<line x1="300.81" y1="644.8" x2="310.79" y2="644.8" stroke-width="0.7" stroke="#1a1a1a"/>
<rect x="296.55" y="651.85" width="18.5" height="49.35" fill="#5673ff" stroke-width="0.7" stroke="#1a1a1a"/>
<line x1="353.15" y1="697.6" x2="353.15" y2="698.4" stroke-width="0.7" stroke="#1a1a1a"/>
<line x1="348.13" y1="697.6" x2="358.17" y2="697.6" stroke-width="0.7" stroke="#1a1a1a"/>
<rect x="343.85" y="698.75" width="18.6" height="2.45" fill="#90f2c3" stroke-width="0.7" stroke="#1a1a1a"/>
<line x1="381.35" y1="618.2" x2="381.35" y2="632.3" stroke-width="0.7" stroke="#1a1a1a"/>
<line x1="376.33" y1="618.2" x2="386.37" y2="618.2" stroke-width="0.7" stroke="#1a1a1a"/>
<rect x="372.05" y="632.65" width="18.6" height="68.55" fill="#5673ff" stroke-width="0.7" stroke="#1a1a1a"/>
<text transform="translate(305.8 644.75) rotate(0.03) scale(1 1.03)" font-size="8.1" text-anchor="middle" stroke="#1a1a1a" stroke-width="0.18">***</text>
<text transform="translate(381.4 618.35) rotate(0.03) scale(1 1.03)" font-size="8.1" text-anchor="middle" stroke="#1a1a1a" stroke-width="0.18">**</text>
<line x1="292.2" y1="701.2" x2="292.2" y2="704.2" stroke-width="0.7" stroke="#1a1a1a"/>
<line x1="367" y1="701.2" x2="367" y2="704.2" stroke-width="0.7" stroke="#1a1a1a"/>
<text transform="translate(292.2 715) rotate(0.03) scale(1 1.03)" font-size="9.6" text-anchor="middle" stroke="#1a1a1a" stroke-width="0.15">MKN-45</text>
<text transform="translate(367 715) rotate(0.03) scale(1 1.03)" font-size="9.6" text-anchor="middle" stroke="#1a1a1a" stroke-width="0.15">HGC-27</text>
</g>
<g id="panelK">
<text transform="translate(433.8 596.6) rotate(0.03) scale(1 1.03)" font-size="13.5" stroke="#1a1a1a" stroke-width="0.15">K</text>
<line x1="466.8" y1="600.05" x2="466.8" y2="701.55" stroke-width="0.7" stroke="#1a1a1a"/>
<line x1="466.45" y1="701.2" x2="617.9" y2="701.2" stroke-width="0.7" stroke="#1a1a1a"/>
<line x1="463" y1="701.2" x2="466.8" y2="701.2" stroke-width="0.7" stroke="#1a1a1a"/>
<text transform="translate(462.5 703.68) rotate(0.03) scale(1 1.03)" font-size="8" text-anchor="end" stroke="#1a1a1a" stroke-width="0.15">0</text>
<line x1="463" y1="667.6" x2="466.8" y2="667.6" stroke-width="0.7" stroke="#1a1a1a"/>
<text transform="translate(462.5 670.08) rotate(0.03) scale(1 1.03)" font-size="8" text-anchor="end" stroke="#1a1a1a" stroke-width="0.15">5</text>
<line x1="463" y1="634" x2="466.8" y2="634" stroke-width="0.7" stroke="#1a1a1a"/>
<text transform="translate(462.5 636.48) rotate(0.03) scale(1 1.03)" font-size="8" text-anchor="end" stroke="#1a1a1a" stroke-width="0.15">10</text>
<line x1="463" y1="600.4" x2="466.8" y2="600.4" stroke-width="0.7" stroke="#1a1a1a"/>
<text transform="translate(462.5 602.88) rotate(0.03) scale(1 1.03)" font-size="8" text-anchor="end" stroke="#1a1a1a" stroke-width="0.15">15</text>
<text transform="translate(447.2 651) rotate(-89.97) scale(1 1.03)" font-size="9.6" text-anchor="middle" stroke="#1a1a1a" stroke-width="0.15">Relative enrichment</text>
<rect x="471.55" y="593.6" width="11.3" height="5.6" fill="#90f2c3" stroke-width="0.7" stroke="#1a1a1a"/>
<text transform="translate(488.6 599.09) rotate(0.03) scale(1 1.03)" font-size="8.3" stroke="#1a1a1a" stroke-width="0.15">anti-IgG</text>
<rect x="471.55" y="605.4" width="11.3" height="5.6" fill="#5673ff" stroke-width="0.7" stroke="#1a1a1a"/>
<text transform="translate(488.6 610.89) rotate(0.03) scale(1 1.03)" font-size="8.3" stroke="#1a1a1a" stroke-width="0.15">anti-HDAC3</text>
<line x1="489.8" y1="692.6" x2="489.8" y2="694.5" stroke-width="0.7" stroke="#1a1a1a"/>
<line x1="484.81" y1="692.6" x2="494.79" y2="692.6" stroke-width="0.7" stroke="#1a1a1a"/>
<rect x="480.55" y="694.85" width="18.5" height="6.35" fill="#90f2c3" stroke-width="0.7" stroke="#1a1a1a"/>
<line x1="517.9" y1="624.6" x2="517.9" y2="633.8" stroke-width="0.7" stroke="#1a1a1a"/>
<line x1="512.86" y1="624.6" x2="522.94" y2="624.6" stroke-width="0.7" stroke="#1a1a1a"/>
<rect x="508.55" y="634.15" width="18.7" height="67.05" fill="#5673ff" stroke-width="0.7" stroke="#1a1a1a"/>
<line x1="565.35" y1="693.4" x2="565.35" y2="694.5" stroke-width="0.7" stroke="#1a1a1a"/>
<line x1="560.33" y1="693.4" x2="570.37" y2="693.4" stroke-width="0.7" stroke="#1a1a1a"/>
<rect x="556.05" y="694.85" width="18.6" height="6.35" fill="#90f2c3" stroke-width="0.7" stroke="#1a1a1a"/>
<line x1="593.7" y1="613.2" x2="593.7" y2="623.3" stroke-width="0.7" stroke="#1a1a1a"/>
<line x1="588.76" y1="613.2" x2="598.64" y2="613.2" stroke-width="0.7" stroke="#1a1a1a"/>
<rect x="584.55" y="623.65" width="18.3" height="77.55" fill="#5673ff" stroke-width="0.7" stroke="#1a1a1a"/>
<text transform="translate(518.2 624.35) rotate(0.03) scale(1 1.03)" font-size="8.1" text-anchor="middle" stroke="#1a1a1a" stroke-width="0.18">***</text>
<text transform="translate(593.7 613.95) rotate(0.03) scale(1 1.03)" font-size="8.1" text-anchor="middle" stroke="#1a1a1a" stroke-width="0.18">***</text>
<line x1="504.4" y1="701.2" x2="504.4" y2="704.2" stroke-width="0.7" stroke="#1a1a1a"/>
<line x1="579.4" y1="701.2" x2="579.4" y2="704.2" stroke-width="0.7" stroke="#1a1a1a"/>
<text transform="translate(504.4 715) rotate(0.03) scale(1 1.03)" font-size="9.6" text-anchor="middle" stroke="#1a1a1a" stroke-width="0.15">MKN-45</text>
<text transform="translate(579.4 715) rotate(0.03) scale(1 1.03)" font-size="9.6" text-anchor="middle" stroke="#1a1a1a" stroke-width="0.15">HGC-27</text>
</g>
<g id="panelL">
<text transform="translate(5.4 731.2) rotate(0.03) scale(1 1.03)" font-size="13.5" stroke="#1a1a1a" stroke-width="0.15">L</text>
<line x1="29" y1="734.95" x2="29" y2="836.65" stroke-width="0.7" stroke="#1a1a1a"/>
<line x1="28.65" y1="836.3" x2="132.6" y2="836.3" stroke-width="0.7" stroke="#1a1a1a"/>
<line x1="27.1" y1="836.3" x2="29" y2="836.3" stroke-width="0.7" stroke="#1a1a1a"/>
<text transform="translate(26.6 838.78) rotate(0.03) scale(1 1.03)" font-size="8" text-anchor="end" stroke="#1a1a1a" stroke-width="0.15">0</text>
<line x1="27.1" y1="816.1" x2="29" y2="816.1" stroke-width="0.7" stroke="#1a1a1a"/>
<text transform="translate(26.6 818.58) rotate(0.03) scale(1 1.03)" font-size="8" text-anchor="end" stroke="#1a1a1a" stroke-width="0.15">2</text>
<line x1="27.1" y1="795.9" x2="29" y2="795.9" stroke-width="0.7" stroke="#1a1a1a"/>
<text transform="translate(26.6 798.38) rotate(0.03) scale(1 1.03)" font-size="8" text-anchor="end" stroke="#1a1a1a" stroke-width="0.15">4</text>
<line x1="27.1" y1="775.7" x2="29" y2="775.7" stroke-width="0.7" stroke="#1a1a1a"/>
<text transform="translate(26.6 778.18) rotate(0.03) scale(1 1.03)" font-size="8" text-anchor="end" stroke="#1a1a1a" stroke-width="0.15">6</text>
<line x1="27.1" y1="755.5" x2="29" y2="755.5" stroke-width="0.7" stroke="#1a1a1a"/>
<text transform="translate(26.6 757.98) rotate(0.03) scale(1 1.03)" font-size="8" text-anchor="end" stroke="#1a1a1a" stroke-width="0.15">8</text>
<line x1="27.1" y1="735.3" x2="29" y2="735.3" stroke-width="0.7" stroke="#1a1a1a"/>
<text transform="translate(26.6 737.78) rotate(0.03) scale(1 1.03)" font-size="8" text-anchor="end" stroke="#1a1a1a" stroke-width="0.15">10</text>
<text transform="translate(12.6 786) rotate(-89.97) scale(1 1.03)" font-size="9.6" text-anchor="middle" stroke="#1a1a1a" stroke-width="0.15">Relative enrichment</text>
<text transform="translate(31.5 735.3) rotate(0.03) scale(1 1.03)" font-size="9.75" stroke="#1a1a1a" stroke-width="0.15">MKN-45</text>
<rect x="31.25" y="744.5" width="11.1" height="5.4" fill="#90f2c3" stroke-width="0.7" stroke="#1a1a1a"/>
<text transform="translate(48.7 749.89) rotate(0.03) scale(1 1.03)" font-size="8.3" stroke="#1a1a1a" stroke-width="0.15">shNC</text>
<rect x="31.25" y="756.3" width="11.1" height="5.4" fill="#5673ff" stroke-width="0.7" stroke="#1a1a1a"/>
<text transform="translate(48.7 761.69) rotate(0.03) scale(1 1.03)" font-size="8.3" stroke="#1a1a1a" stroke-width="0.15">shHNF4A</text>
<line x1="45.7" y1="824.4" x2="45.7" y2="826.3" stroke-width="0.7" stroke="#1a1a1a"/>
<line x1="42.01" y1="824.4" x2="49.39" y2="824.4" stroke-width="0.7" stroke="#1a1a1a"/>
<rect x="38.95" y="826.65" width="13.5" height="9.65" fill="#90f2c3" stroke-width="0.7" stroke="#1a1a1a"/>
<line x1="65.9" y1="823.6" x2="65.9" y2="826" stroke-width="0.7" stroke="#1a1a1a"/>
<line x1="62.21" y1="823.6" x2="69.59" y2="823.6" stroke-width="0.7" stroke="#1a1a1a"/>
<rect x="59.15" y="826.35" width="13.5" height="9.95" fill="#5673ff" stroke-width="0.7" stroke="#1a1a1a"/>
<line x1="99.8" y1="743" x2="99.8" y2="753" stroke-width="0.7" stroke="#1a1a1a"/>
<line x1="96.11" y1="743" x2="103.49" y2="743" stroke-width="0.7" stroke="#1a1a1a"/>
<rect x="93.05" y="753.35" width="13.5" height="82.95" fill="#90f2c3" stroke-width="0.7" stroke="#1a1a1a"/>
<line x1="120.15" y1="813.5" x2="120.15" y2="819.5" stroke-width="0.7" stroke="#1a1a1a"/>
<line x1="116.48" y1="813.5" x2="123.82" y2="813.5" stroke-width="0.7" stroke="#1a1a1a"/>
<rect x="113.45" y="819.85" width="13.4" height="16.45" fill="#5673ff" stroke-width="0.7" stroke="#1a1a1a"/>
<text transform="translate(120.1 812.75) rotate(0.03) scale(1 1.03)" font-size="8.1" text-anchor="middle" stroke="#1a1a1a" stroke-width="0.18">***</text>
<line x1="55.8" y1="836.3" x2="55.8" y2="839.3" stroke-width="0.7" stroke="#1a1a1a"/>
<line x1="109.9" y1="836.3" x2="109.9" y2="839.3" stroke-width="0.7" stroke="#1a1a1a"/>
<text transform="translate(55.8 850) rotate(0.03) scale(1 1.03)" font-size="9.65" text-anchor="middle" stroke="#1a1a1a" stroke-width="0.15">anti-IgG</text>
<text transform="translate(109.9 850) rotate(0.03) scale(1 1.03)" font-size="9.65" text-anchor="middle" stroke="#1a1a1a" stroke-width="0.15">anti-HDAC3</text>
<line x1="199.6" y1="734.95" x2="199.6" y2="836.65" stroke-width="0.7" stroke="#1a1a1a"/>
<line x1="199.25" y1="836.3" x2="307.3" y2="836.3" stroke-width="0.7" stroke="#1a1a1a"/>
<line x1="196.8" y1="836.3" x2="199.6" y2="836.3" stroke-width="0.7" stroke="#1a1a1a"/>
<text transform="translate(196.3 838.78) rotate(0.03) scale(1 1.03)" font-size="8" text-anchor="end" stroke="#1a1a1a" stroke-width="0.15">0</text>
<line x1="196.8" y1="802.63" x2="199.6" y2="802.63" stroke-width="0.7" stroke="#1a1a1a"/>
<text transform="translate(196.3 805.11) rotate(0.03) scale(1 1.03)" font-size="8" text-anchor="end" stroke="#1a1a1a" stroke-width="0.15">5</text>
<line x1="196.8" y1="768.97" x2="199.6" y2="768.97" stroke-width="0.7" stroke="#1a1a1a"/>
<text transform="translate(196.3 771.45) rotate(0.03) scale(1 1.03)" font-size="8" text-anchor="end" stroke="#1a1a1a" stroke-width="0.15">10</text>
<line x1="196.8" y1="735.3" x2="199.6" y2="735.3" stroke-width="0.7" stroke="#1a1a1a"/>
<text transform="translate(196.3 737.78) rotate(0.03) scale(1 1.03)" font-size="8" text-anchor="end" stroke="#1a1a1a" stroke-width="0.15">15</text>
<text transform="translate(182.9 786) rotate(-89.97) scale(1 1.03)" font-size="9.6" text-anchor="middle" stroke="#1a1a1a" stroke-width="0.15">Relative enrichment</text>
<text transform="translate(204.8 735.3) rotate(0.03) scale(1 1.03)" font-size="9.6" stroke="#1a1a1a" stroke-width="0.15">HGC-27</text>
<rect x="204.45" y="744.5" width="11.1" height="5.4" fill="#90f2c3" stroke-width="0.7" stroke="#1a1a1a"/>
<text transform="translate(221.6 749.89) rotate(0.03) scale(1 1.03)" font-size="8.3" stroke="#1a1a1a" stroke-width="0.15">shNC</text>
<rect x="204.45" y="756.3" width="11.1" height="5.4" fill="#5673ff" stroke-width="0.7" stroke="#1a1a1a"/>
<text transform="translate(221.6 761.69) rotate(0.03) scale(1 1.03)" font-size="8.3" stroke="#1a1a1a" stroke-width="0.15">shHNF4A</text>
<line x1="216" y1="828.4" x2="216" y2="829.6" stroke-width="0.7" stroke="#1a1a1a"/>
<line x1="212.46" y1="828.4" x2="219.54" y2="828.4" stroke-width="0.7" stroke="#1a1a1a"/>
<rect x="209.55" y="829.95" width="12.9" height="6.35" fill="#90f2c3" stroke-width="0.7" stroke="#1a1a1a"/>
<line x1="235.9" y1="828.4" x2="235.9" y2="829.4" stroke-width="0.7" stroke="#1a1a1a"/>
<line x1="232.31" y1="828.4" x2="239.49" y2="828.4" stroke-width="0.7" stroke="#1a1a1a"/>
<rect x="229.35" y="829.75" width="13.1" height="6.55" fill="#5673ff" stroke-width="0.7" stroke="#1a1a1a"/>
<line x1="269.9" y1="755" x2="269.9" y2="762.8" stroke-width="0.7" stroke="#1a1a1a"/>
<line x1="266.31" y1="755" x2="273.49" y2="755" stroke-width="0.7" stroke="#1a1a1a"/>
<rect x="263.35" y="763.15" width="13.1" height="73.15" fill="#90f2c3" stroke-width="0.7" stroke="#1a1a1a"/>
<line x1="290.2" y1="814.2" x2="290.2" y2="817.5" stroke-width="0.7" stroke="#1a1a1a"/>
<line x1="286.66" y1="814.2" x2="293.74" y2="814.2" stroke-width="0.7" stroke="#1a1a1a"/>
<rect x="283.75" y="817.85" width="12.9" height="18.45" fill="#5673ff" stroke-width="0.7" stroke="#1a1a1a"/>
<text transform="translate(290.2 813.75) rotate(0.03) scale(1 1.03)" font-size="8.1" text-anchor="middle" stroke="#1a1a1a" stroke-width="0.18">***</text>
<line x1="226" y1="836.3" x2="226" y2="839.3" stroke-width="0.7" stroke="#1a1a1a"/>
<line x1="280" y1="836.3" x2="280" y2="839.3" stroke-width="0.7" stroke="#1a1a1a"/>
<text transform="translate(226 850) rotate(0.03) scale(1 1.03)" font-size="9.65" text-anchor="middle" stroke="#1a1a1a" stroke-width="0.15">anti-IgG</text>
<text transform="translate(280 850) rotate(0.03) scale(1 1.03)" font-size="9.65" text-anchor="middle" stroke="#1a1a1a" stroke-width="0.15">anti-HDAC3</text>
</g>
<g id="panelM">
<text transform="translate(332.4 731.2) rotate(0.03) scale(1 1.03)" font-size="13.5" stroke="#1a1a1a" stroke-width="0.15">M</text>
<line x1="369.2" y1="734.95" x2="369.2" y2="836.65" stroke-width="0.7" stroke="#1a1a1a"/>
<line x1="368.85" y1="836.3" x2="476.8" y2="836.3" stroke-width="0.7" stroke="#1a1a1a"/>
<line x1="366.8" y1="836.3" x2="369.2" y2="836.3" stroke-width="0.7" stroke="#1a1a1a"/>
<text transform="translate(366.3 838.78) rotate(0.03) scale(1 1.03)" font-size="8" text-anchor="end" stroke="#1a1a1a" stroke-width="0.15">0</text>
<line x1="366.8" y1="811.05" x2="369.2" y2="811.05" stroke-width="0.7" stroke="#1a1a1a"/>
<text transform="translate(366.3 813.53) rotate(0.03) scale(1 1.03)" font-size="8" text-anchor="end" stroke="#1a1a1a" stroke-width="0.15">5</text>
<line x1="366.8" y1="785.8" x2="369.2" y2="785.8" stroke-width="0.7" stroke="#1a1a1a"/>
<text transform="translate(366.3 788.28) rotate(0.03) scale(1 1.03)" font-size="8" text-anchor="end" stroke="#1a1a1a" stroke-width="0.15">10</text>
<line x1="366.8" y1="760.55" x2="369.2" y2="760.55" stroke-width="0.7" stroke="#1a1a1a"/>
<text transform="translate(366.3 763.03) rotate(0.03) scale(1 1.03)" font-size="8" text-anchor="end" stroke="#1a1a1a" stroke-width="0.15">15</text>
<line x1="366.8" y1="735.3" x2="369.2" y2="735.3" stroke-width="0.7" stroke="#1a1a1a"/>
<text transform="translate(366.3 737.78) rotate(0.03) scale(1 1.03)" font-size="8" text-anchor="end" stroke="#1a1a1a" stroke-width="0.15">20</text>
<text transform="translate(349.4 786) rotate(-89.97) scale(1 1.03)" font-size="9.6" text-anchor="middle" stroke="#1a1a1a" stroke-width="0.15">Relative enrichment</text>
<text transform="translate(371 735.3) rotate(0.03) scale(1 1.03)" font-size="9.6" stroke="#1a1a1a" stroke-width="0.15">MKN-45</text>
<rect x="373.05" y="746.95" width="10.8" height="5.5" fill="#90f2c3" stroke-width="0.7" stroke="#1a1a1a"/>
<text transform="translate(389.5 752.39) rotate(0.03) scale(1 1.03)" font-size="8.3" stroke="#1a1a1a" stroke-width="0.15">shNC</text>
<rect x="373.05" y="758.65" width="10.8" height="5.5" fill="#5673ff" stroke-width="0.7" stroke="#1a1a1a"/>
<text transform="translate(389.5 764.09) rotate(0.03) scale(1 1.03)" font-size="8.3" stroke="#1a1a1a" stroke-width="0.15">shHDAC3</text>
<line x1="386" y1="829.6" x2="386" y2="831.3" stroke-width="0.7" stroke="#1a1a1a"/>
<line x1="382.41" y1="829.6" x2="389.59" y2="829.6" stroke-width="0.7" stroke="#1a1a1a"/>
<rect x="379.45" y="831.65" width="13.1" height="4.65" fill="#90f2c3" stroke-width="0.7" stroke="#1a1a1a"/>
<line x1="406.15" y1="829.8" x2="406.15" y2="831" stroke-width="0.7" stroke="#1a1a1a"/>
<line x1="402.59" y1="829.8" x2="409.71" y2="829.8" stroke-width="0.7" stroke="#1a1a1a"/>
<rect x="399.65" y="831.35" width="13" height="4.95" fill="#5673ff" stroke-width="0.7" stroke="#1a1a1a"/>
<line x1="440" y1="744.3" x2="440" y2="751.4" stroke-width="0.7" stroke="#1a1a1a"/>
<line x1="436.46" y1="744.3" x2="443.54" y2="744.3" stroke-width="0.7" stroke="#1a1a1a"/>
<rect x="433.55" y="751.75" width="12.9" height="84.55" fill="#90f2c3" stroke-width="0.7" stroke="#1a1a1a"/>
<line x1="460.05" y1="786.6" x2="460.05" y2="793" stroke-width="0.7" stroke="#1a1a1a"/>
<line x1="456.54" y1="786.6" x2="463.56" y2="786.6" stroke-width="0.7" stroke="#1a1a1a"/>
<rect x="453.65" y="793.35" width="12.8" height="42.95" fill="#5673ff" stroke-width="0.7" stroke="#1a1a1a"/>
<text transform="translate(460 786.75) rotate(0.03) scale(1 1.03)" font-size="8.1" text-anchor="middle" stroke="#1a1a1a" stroke-width="0.18">**</text>
<line x1="396.2" y1="836.3" x2="396.2" y2="839.3" stroke-width="0.7" stroke="#1a1a1a"/>
<line x1="450" y1="836.3" x2="450" y2="839.3" stroke-width="0.7" stroke="#1a1a1a"/>
<text transform="translate(396.2 850) rotate(0.03) scale(1 1.03)" font-size="9.65" text-anchor="middle" stroke="#1a1a1a" stroke-width="0.15">anti-IgG</text>
<text transform="translate(450 850) rotate(0.03) scale(1 1.03)" font-size="9.65" text-anchor="middle" stroke="#1a1a1a" stroke-width="0.15">anti-HNF4A</text>
<line x1="539.4" y1="734.95" x2="539.4" y2="836.65" stroke-width="0.7" stroke="#1a1a1a"/>
<line x1="539.05" y1="836.3" x2="647.4" y2="836.3" stroke-width="0.7" stroke="#1a1a1a"/>
<line x1="537" y1="836.3" x2="539.4" y2="836.3" stroke-width="0.7" stroke="#1a1a1a"/>
<text transform="translate(536.5 838.78) rotate(0.03) scale(1 1.03)" font-size="8" text-anchor="end" stroke="#1a1a1a" stroke-width="0.15">0</text>
<line x1="537" y1="811.05" x2="539.4" y2="811.05" stroke-width="0.7" stroke="#1a1a1a"/>
<text transform="translate(536.5 813.53) rotate(0.03) scale(1 1.03)" font-size="8" text-anchor="end" stroke="#1a1a1a" stroke-width="0.15">10</text>
<line x1="537" y1="785.8" x2="539.4" y2="785.8" stroke-width="0.7" stroke="#1a1a1a"/>
<text transform="translate(536.5 788.28) rotate(0.03) scale(1 1.03)" font-size="8" text-anchor="end" stroke="#1a1a1a" stroke-width="0.15">20</text>
<line x1="537" y1="760.55" x2="539.4" y2="760.55" stroke-width="0.7" stroke="#1a1a1a"/>
<text transform="translate(536.5 763.03) rotate(0.03) scale(1 1.03)" font-size="8" text-anchor="end" stroke="#1a1a1a" stroke-width="0.15">30</text>
<line x1="537" y1="735.3" x2="539.4" y2="735.3" stroke-width="0.7" stroke="#1a1a1a"/>
<text transform="translate(536.5 737.78) rotate(0.03) scale(1 1.03)" font-size="8" text-anchor="end" stroke="#1a1a1a" stroke-width="0.15">40</text>
<text transform="translate(521 786) rotate(-89.97) scale(1 1.03)" font-size="9.6" text-anchor="middle" stroke="#1a1a1a" stroke-width="0.15">Relative enrichment</text>
<text transform="translate(544.7 735.3) rotate(0.03) scale(1 1.03)" font-size="9.6" stroke="#1a1a1a" stroke-width="0.15">HGC-27</text>
<rect x="545.45" y="747.05" width="10.9" height="5.5" fill="#90f2c3" stroke-width="0.7" stroke="#1a1a1a"/>
<text transform="translate(562.5 752.49) rotate(0.03) scale(1 1.03)" font-size="8.3" stroke="#1a1a1a" stroke-width="0.15">shNC</text>
<rect x="545.45" y="758.65" width="10.9" height="5.5" fill="#5673ff" stroke-width="0.7" stroke="#1a1a1a"/>
<text transform="translate(562.5 764.09) rotate(0.03) scale(1 1.03)" font-size="8.3" stroke="#1a1a1a" stroke-width="0.15">shHDAC3</text>
<line x1="556.25" y1="833" x2="556.25" y2="833.6" stroke-width="0.7" stroke="#1a1a1a"/>
<line x1="552.69" y1="833" x2="559.81" y2="833" stroke-width="0.7" stroke="#1a1a1a"/>
<rect x="549.75" y="833.95" width="13" height="2.35" fill="#90f2c3" stroke-width="0.7" stroke="#1a1a1a"/>
<line x1="576.4" y1="832.8" x2="576.4" y2="833.4" stroke-width="0.7" stroke="#1a1a1a"/>
<line x1="572.81" y1="832.8" x2="579.99" y2="832.8" stroke-width="0.7" stroke="#1a1a1a"/>
<rect x="569.85" y="833.75" width="13.1" height="2.55" fill="#5673ff" stroke-width="0.7" stroke="#1a1a1a"/>
<line x1="610" y1="762.8" x2="610" y2="769.8" stroke-width="0.7" stroke="#1a1a1a"/>
<line x1="606.41" y1="762.8" x2="613.59" y2="762.8" stroke-width="0.7" stroke="#1a1a1a"/>
<rect x="603.45" y="770.15" width="13.1" height="66.15" fill="#90f2c3" stroke-width="0.7" stroke="#1a1a1a"/>
<line x1="630.1" y1="795.4" x2="630.1" y2="799.7" stroke-width="0.7" stroke="#1a1a1a"/>
<line x1="626.51" y1="795.4" x2="633.69" y2="795.4" stroke-width="0.7" stroke="#1a1a1a"/>
<rect x="623.55" y="800.05" width="13.1" height="36.25" fill="#5673ff" stroke-width="0.7" stroke="#1a1a1a"/>
<text transform="translate(630.1 795.45) rotate(0.03) scale(1 1.03)" font-size="8.1" text-anchor="middle" stroke="#1a1a1a" stroke-width="0.18">**</text>
<line x1="566.2" y1="836.3" x2="566.2" y2="839.3" stroke-width="0.7" stroke="#1a1a1a"/>
<line x1="620.2" y1="836.3" x2="620.2" y2="839.3" stroke-width="0.7" stroke="#1a1a1a"/>
<text transform="translate(566.2 850) rotate(0.03) scale(1 1.03)" font-size="9.65" text-anchor="middle" stroke="#1a1a1a" stroke-width="0.15">anti-IgG</text>
<text transform="translate(620.2 850) rotate(0.03) scale(1 1.03)" font-size="9.65" text-anchor="middle" stroke="#1a1a1a" stroke-width="0.15">anti-HNF4A</text>
</g>
</svg>
</body>
</html>
